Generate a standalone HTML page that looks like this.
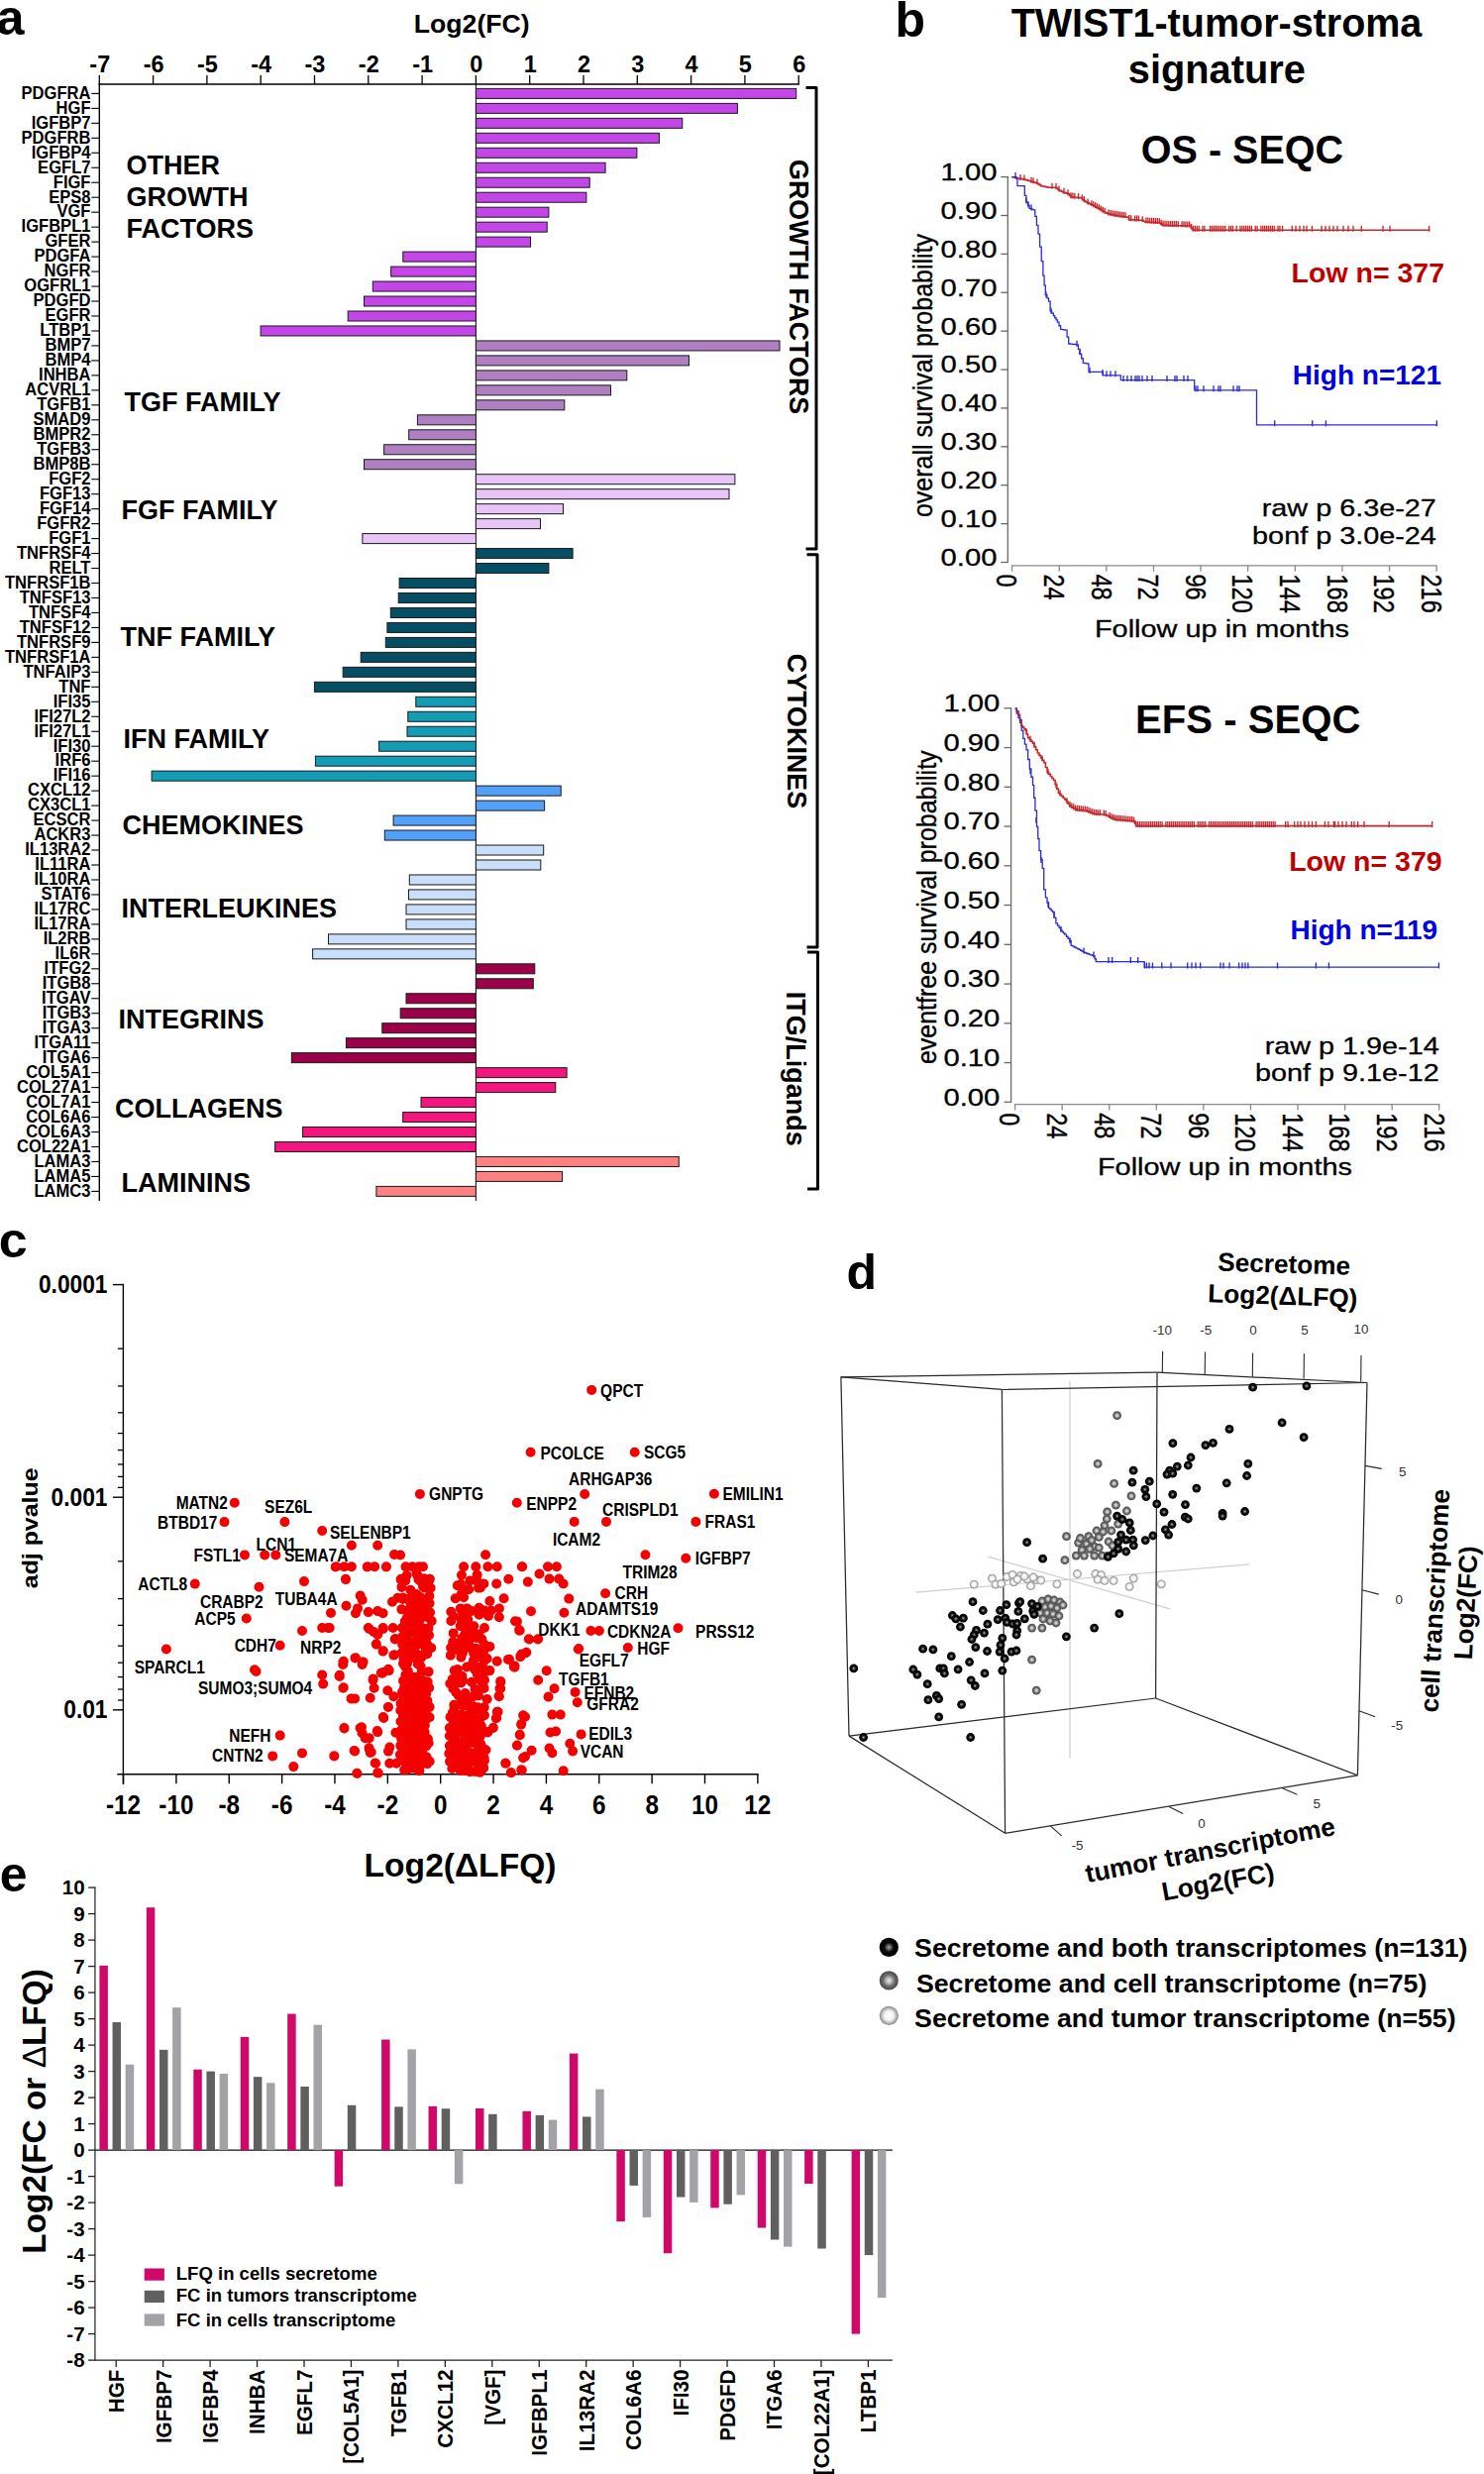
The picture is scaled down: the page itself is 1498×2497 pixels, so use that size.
<!DOCTYPE html>
<html><head><meta charset="utf-8"><style>
html,body{margin:0;padding:0;background:#fff;overflow:hidden;}
svg{display:block;font-family:"Liberation Sans",sans-serif;}
</style></head><body>
<svg width="1498" height="2497" viewBox="0 0 1498 2497">
<rect width="1498" height="2497" fill="#fff"/>
<text transform="translate(-3.4,34.9)" font-size="50.3" font-weight="bold" text-anchor="start" fill="#000">a</text>
<line x1="99.6" y1="85" x2="806.9" y2="85" stroke="#000" stroke-width="1.6"/>
<line x1="100.3" y1="85" x2="100.3" y2="76" stroke="#000" stroke-width="1.3"/>
<text transform="translate(100.8,73)" font-size="23.5" font-weight="bold" text-anchor="middle" fill="#000">-7</text>
<line x1="154.6" y1="85" x2="154.6" y2="76" stroke="#000" stroke-width="1.3"/>
<text transform="translate(155.1,73)" font-size="23.5" font-weight="bold" text-anchor="middle" fill="#000">-6</text>
<line x1="208.9" y1="85" x2="208.9" y2="76" stroke="#000" stroke-width="1.3"/>
<text transform="translate(209.4,73)" font-size="23.5" font-weight="bold" text-anchor="middle" fill="#000">-5</text>
<line x1="263.2" y1="85" x2="263.2" y2="76" stroke="#000" stroke-width="1.3"/>
<text transform="translate(263.7,73)" font-size="23.5" font-weight="bold" text-anchor="middle" fill="#000">-4</text>
<line x1="317.5" y1="85" x2="317.5" y2="76" stroke="#000" stroke-width="1.3"/>
<text transform="translate(318,73)" font-size="23.5" font-weight="bold" text-anchor="middle" fill="#000">-3</text>
<line x1="371.8" y1="85" x2="371.8" y2="76" stroke="#000" stroke-width="1.3"/>
<text transform="translate(372.3,73)" font-size="23.5" font-weight="bold" text-anchor="middle" fill="#000">-2</text>
<line x1="426.1" y1="85" x2="426.1" y2="76" stroke="#000" stroke-width="1.3"/>
<text transform="translate(426.6,73)" font-size="23.5" font-weight="bold" text-anchor="middle" fill="#000">-1</text>
<line x1="480.4" y1="85" x2="480.4" y2="76" stroke="#000" stroke-width="1.3"/>
<text transform="translate(480.9,73)" font-size="23.5" font-weight="bold" text-anchor="middle" fill="#000">0</text>
<line x1="534.7" y1="85" x2="534.7" y2="76" stroke="#000" stroke-width="1.3"/>
<text transform="translate(535.2,73)" font-size="23.5" font-weight="bold" text-anchor="middle" fill="#000">1</text>
<line x1="589" y1="85" x2="589" y2="76" stroke="#000" stroke-width="1.3"/>
<text transform="translate(589.5,73)" font-size="23.5" font-weight="bold" text-anchor="middle" fill="#000">2</text>
<line x1="643.3" y1="85" x2="643.3" y2="76" stroke="#000" stroke-width="1.3"/>
<text transform="translate(643.8,73)" font-size="23.5" font-weight="bold" text-anchor="middle" fill="#000">3</text>
<line x1="697.6" y1="85" x2="697.6" y2="76" stroke="#000" stroke-width="1.3"/>
<text transform="translate(698.1,73)" font-size="23.5" font-weight="bold" text-anchor="middle" fill="#000">4</text>
<line x1="751.9" y1="85" x2="751.9" y2="76" stroke="#000" stroke-width="1.3"/>
<text transform="translate(752.4,73)" font-size="23.5" font-weight="bold" text-anchor="middle" fill="#000">5</text>
<line x1="806.2" y1="85" x2="806.2" y2="76" stroke="#000" stroke-width="1.3"/>
<text transform="translate(806.7,73)" font-size="23.5" font-weight="bold" text-anchor="middle" fill="#000">6</text>
<text transform="translate(476.2,32.5)" font-size="26.6" font-weight="bold" text-anchor="middle" fill="#000">Log2(FC)</text>
<line x1="100.3" y1="84.2" x2="100.3" y2="1212" stroke="#000" stroke-width="1.4"/>
<line x1="480.4" y1="85" x2="480.4" y2="1212" stroke="#000" stroke-width="1"/>
<line x1="92.3" y1="94.4" x2="100.3" y2="94.4" stroke="#000" stroke-width="1.1"/>
<text transform="translate(91.5,99.7) scale(0.931,1)" font-size="17.8" font-weight="bold" text-anchor="end" fill="#000">PDGFRA</text>
<rect x="480.4" y="89.4" width="323.3" height="10" fill="#c445e8" stroke="#1a1a1a" stroke-width="1"/>
<line x1="92.3" y1="109.37" x2="100.3" y2="109.37" stroke="#000" stroke-width="1.1"/>
<text transform="translate(91.5,114.67) scale(0.931,1)" font-size="17.8" font-weight="bold" text-anchor="end" fill="#000">HGF</text>
<rect x="480.4" y="104.37" width="264" height="10" fill="#c445e8" stroke="#1a1a1a" stroke-width="1"/>
<line x1="92.3" y1="124.35" x2="100.3" y2="124.35" stroke="#000" stroke-width="1.1"/>
<text transform="translate(91.5,129.65) scale(0.931,1)" font-size="17.8" font-weight="bold" text-anchor="end" fill="#000">IGFBP7</text>
<rect x="480.4" y="119.35" width="208.4" height="10" fill="#c445e8" stroke="#1a1a1a" stroke-width="1"/>
<line x1="92.3" y1="139.32" x2="100.3" y2="139.32" stroke="#000" stroke-width="1.1"/>
<text transform="translate(91.5,144.62) scale(0.931,1)" font-size="17.8" font-weight="bold" text-anchor="end" fill="#000">PDGFRB</text>
<rect x="480.4" y="134.32" width="185" height="10" fill="#c445e8" stroke="#1a1a1a" stroke-width="1"/>
<line x1="92.3" y1="154.29" x2="100.3" y2="154.29" stroke="#000" stroke-width="1.1"/>
<text transform="translate(91.5,159.59) scale(0.931,1)" font-size="17.8" font-weight="bold" text-anchor="end" fill="#000">IGFBP4</text>
<rect x="480.4" y="149.29" width="162.5" height="10" fill="#c445e8" stroke="#1a1a1a" stroke-width="1"/>
<line x1="92.3" y1="169.27" x2="100.3" y2="169.27" stroke="#000" stroke-width="1.1"/>
<text transform="translate(91.5,174.57) scale(0.931,1)" font-size="17.8" font-weight="bold" text-anchor="end" fill="#000">EGFL7</text>
<rect x="480.4" y="164.27" width="130.7" height="10" fill="#c445e8" stroke="#1a1a1a" stroke-width="1"/>
<line x1="92.3" y1="184.24" x2="100.3" y2="184.24" stroke="#000" stroke-width="1.1"/>
<text transform="translate(91.5,189.54) scale(0.931,1)" font-size="17.8" font-weight="bold" text-anchor="end" fill="#000">FIGF</text>
<rect x="480.4" y="179.24" width="114.8" height="10" fill="#c445e8" stroke="#1a1a1a" stroke-width="1"/>
<line x1="92.3" y1="199.21" x2="100.3" y2="199.21" stroke="#000" stroke-width="1.1"/>
<text transform="translate(91.5,204.51) scale(0.931,1)" font-size="17.8" font-weight="bold" text-anchor="end" fill="#000">EPS8</text>
<rect x="480.4" y="194.21" width="111.5" height="10" fill="#c445e8" stroke="#1a1a1a" stroke-width="1"/>
<line x1="92.3" y1="214.18" x2="100.3" y2="214.18" stroke="#000" stroke-width="1.1"/>
<text transform="translate(91.5,219.48) scale(0.931,1)" font-size="17.8" font-weight="bold" text-anchor="end" fill="#000">VGF</text>
<rect x="480.4" y="209.18" width="73.5" height="10" fill="#c445e8" stroke="#1a1a1a" stroke-width="1"/>
<line x1="92.3" y1="229.16" x2="100.3" y2="229.16" stroke="#000" stroke-width="1.1"/>
<text transform="translate(91.5,234.46) scale(0.931,1)" font-size="17.8" font-weight="bold" text-anchor="end" fill="#000">IGFBPL1</text>
<rect x="480.4" y="224.16" width="71.8" height="10" fill="#c445e8" stroke="#1a1a1a" stroke-width="1"/>
<line x1="92.3" y1="244.13" x2="100.3" y2="244.13" stroke="#000" stroke-width="1.1"/>
<text transform="translate(91.5,249.43) scale(0.931,1)" font-size="17.8" font-weight="bold" text-anchor="end" fill="#000">GFER</text>
<rect x="480.4" y="239.13" width="55.1" height="10" fill="#c445e8" stroke="#1a1a1a" stroke-width="1"/>
<line x1="92.3" y1="259.1" x2="100.3" y2="259.1" stroke="#000" stroke-width="1.1"/>
<text transform="translate(91.5,264.4) scale(0.931,1)" font-size="17.8" font-weight="bold" text-anchor="end" fill="#000">PDGFA</text>
<rect x="406.8" y="254.1" width="73.6" height="10" fill="#c445e8" stroke="#1a1a1a" stroke-width="1"/>
<line x1="92.3" y1="274.08" x2="100.3" y2="274.08" stroke="#000" stroke-width="1.1"/>
<text transform="translate(91.5,279.38) scale(0.931,1)" font-size="17.8" font-weight="bold" text-anchor="end" fill="#000">NGFR</text>
<rect x="394.7" y="269.08" width="85.7" height="10" fill="#c445e8" stroke="#1a1a1a" stroke-width="1"/>
<line x1="92.3" y1="289.05" x2="100.3" y2="289.05" stroke="#000" stroke-width="1.1"/>
<text transform="translate(91.5,294.35) scale(0.931,1)" font-size="17.8" font-weight="bold" text-anchor="end" fill="#000">OGFRL1</text>
<rect x="376.3" y="284.05" width="104.1" height="10" fill="#c445e8" stroke="#1a1a1a" stroke-width="1"/>
<line x1="92.3" y1="304.02" x2="100.3" y2="304.02" stroke="#000" stroke-width="1.1"/>
<text transform="translate(91.5,309.32) scale(0.931,1)" font-size="17.8" font-weight="bold" text-anchor="end" fill="#000">PDGFD</text>
<rect x="367.5" y="299.02" width="112.9" height="10" fill="#c445e8" stroke="#1a1a1a" stroke-width="1"/>
<line x1="92.3" y1="319" x2="100.3" y2="319" stroke="#000" stroke-width="1.1"/>
<text transform="translate(91.5,324.3) scale(0.931,1)" font-size="17.8" font-weight="bold" text-anchor="end" fill="#000">EGFR</text>
<rect x="351.2" y="314" width="129.2" height="10" fill="#c445e8" stroke="#1a1a1a" stroke-width="1"/>
<line x1="92.3" y1="333.97" x2="100.3" y2="333.97" stroke="#000" stroke-width="1.1"/>
<text transform="translate(91.5,339.27) scale(0.931,1)" font-size="17.8" font-weight="bold" text-anchor="end" fill="#000">LTBP1</text>
<rect x="263.1" y="328.97" width="217.3" height="10" fill="#c445e8" stroke="#1a1a1a" stroke-width="1"/>
<line x1="92.3" y1="348.94" x2="100.3" y2="348.94" stroke="#000" stroke-width="1.1"/>
<text transform="translate(91.5,354.24) scale(0.931,1)" font-size="17.8" font-weight="bold" text-anchor="end" fill="#000">BMP7</text>
<rect x="480.4" y="343.94" width="306.6" height="10" fill="#b07fc2" stroke="#1a1a1a" stroke-width="1"/>
<line x1="92.3" y1="363.91" x2="100.3" y2="363.91" stroke="#000" stroke-width="1.1"/>
<text transform="translate(91.5,369.21) scale(0.931,1)" font-size="17.8" font-weight="bold" text-anchor="end" fill="#000">BMP4</text>
<rect x="480.4" y="358.91" width="215.1" height="10" fill="#b07fc2" stroke="#1a1a1a" stroke-width="1"/>
<line x1="92.3" y1="378.89" x2="100.3" y2="378.89" stroke="#000" stroke-width="1.1"/>
<text transform="translate(91.5,384.19) scale(0.931,1)" font-size="17.8" font-weight="bold" text-anchor="end" fill="#000">INHBA</text>
<rect x="480.4" y="373.89" width="152.4" height="10" fill="#b07fc2" stroke="#1a1a1a" stroke-width="1"/>
<line x1="92.3" y1="393.86" x2="100.3" y2="393.86" stroke="#000" stroke-width="1.1"/>
<text transform="translate(91.5,399.16) scale(0.931,1)" font-size="17.8" font-weight="bold" text-anchor="end" fill="#000">ACVRL1</text>
<rect x="480.4" y="388.86" width="136.1" height="10" fill="#b07fc2" stroke="#1a1a1a" stroke-width="1"/>
<line x1="92.3" y1="408.83" x2="100.3" y2="408.83" stroke="#000" stroke-width="1.1"/>
<text transform="translate(91.5,414.13) scale(0.931,1)" font-size="17.8" font-weight="bold" text-anchor="end" fill="#000">TGFB1</text>
<rect x="480.4" y="403.83" width="89.4" height="10" fill="#b07fc2" stroke="#1a1a1a" stroke-width="1"/>
<line x1="92.3" y1="423.81" x2="100.3" y2="423.81" stroke="#000" stroke-width="1.1"/>
<text transform="translate(91.5,429.11) scale(0.931,1)" font-size="17.8" font-weight="bold" text-anchor="end" fill="#000">SMAD9</text>
<rect x="421.4" y="418.81" width="59" height="10" fill="#b07fc2" stroke="#1a1a1a" stroke-width="1"/>
<line x1="92.3" y1="438.78" x2="100.3" y2="438.78" stroke="#000" stroke-width="1.1"/>
<text transform="translate(91.5,444.08) scale(0.931,1)" font-size="17.8" font-weight="bold" text-anchor="end" fill="#000">BMPR2</text>
<rect x="412.7" y="433.78" width="67.7" height="10" fill="#b07fc2" stroke="#1a1a1a" stroke-width="1"/>
<line x1="92.3" y1="453.75" x2="100.3" y2="453.75" stroke="#000" stroke-width="1.1"/>
<text transform="translate(91.5,459.05) scale(0.931,1)" font-size="17.8" font-weight="bold" text-anchor="end" fill="#000">TGFB3</text>
<rect x="387.6" y="448.75" width="92.8" height="10" fill="#b07fc2" stroke="#1a1a1a" stroke-width="1"/>
<line x1="92.3" y1="468.73" x2="100.3" y2="468.73" stroke="#000" stroke-width="1.1"/>
<text transform="translate(91.5,474.03) scale(0.931,1)" font-size="17.8" font-weight="bold" text-anchor="end" fill="#000">BMP8B</text>
<rect x="367.5" y="463.73" width="112.9" height="10" fill="#b07fc2" stroke="#1a1a1a" stroke-width="1"/>
<line x1="92.3" y1="483.7" x2="100.3" y2="483.7" stroke="#000" stroke-width="1.1"/>
<text transform="translate(91.5,489) scale(0.931,1)" font-size="17.8" font-weight="bold" text-anchor="end" fill="#000">FGF2</text>
<rect x="480.4" y="478.7" width="261.5" height="10" fill="#e9c5f7" stroke="#1a1a1a" stroke-width="1"/>
<line x1="92.3" y1="498.67" x2="100.3" y2="498.67" stroke="#000" stroke-width="1.1"/>
<text transform="translate(91.5,503.97) scale(0.931,1)" font-size="17.8" font-weight="bold" text-anchor="end" fill="#000">FGF13</text>
<rect x="480.4" y="493.67" width="255.6" height="10" fill="#e9c5f7" stroke="#1a1a1a" stroke-width="1"/>
<line x1="92.3" y1="513.64" x2="100.3" y2="513.64" stroke="#000" stroke-width="1.1"/>
<text transform="translate(91.5,518.94) scale(0.931,1)" font-size="17.8" font-weight="bold" text-anchor="end" fill="#000">FGF14</text>
<rect x="480.4" y="508.64" width="88.1" height="10" fill="#e9c5f7" stroke="#1a1a1a" stroke-width="1"/>
<line x1="92.3" y1="528.62" x2="100.3" y2="528.62" stroke="#000" stroke-width="1.1"/>
<text transform="translate(91.5,533.92) scale(0.931,1)" font-size="17.8" font-weight="bold" text-anchor="end" fill="#000">FGFR2</text>
<rect x="480.4" y="523.62" width="65.1" height="10" fill="#e9c5f7" stroke="#1a1a1a" stroke-width="1"/>
<line x1="92.3" y1="543.59" x2="100.3" y2="543.59" stroke="#000" stroke-width="1.1"/>
<text transform="translate(91.5,548.89) scale(0.931,1)" font-size="17.8" font-weight="bold" text-anchor="end" fill="#000">FGF1</text>
<rect x="365.9" y="538.59" width="114.5" height="10" fill="#e9c5f7" stroke="#1a1a1a" stroke-width="1"/>
<line x1="92.3" y1="558.56" x2="100.3" y2="558.56" stroke="#000" stroke-width="1.1"/>
<text transform="translate(91.5,563.86) scale(0.931,1)" font-size="17.8" font-weight="bold" text-anchor="end" fill="#000">TNFRSF4</text>
<rect x="480.4" y="553.56" width="97.7" height="10" fill="#054e63" stroke="#1a1a1a" stroke-width="1"/>
<line x1="92.3" y1="573.54" x2="100.3" y2="573.54" stroke="#000" stroke-width="1.1"/>
<text transform="translate(91.5,578.84) scale(0.931,1)" font-size="17.8" font-weight="bold" text-anchor="end" fill="#000">RELT</text>
<rect x="480.4" y="568.54" width="73.5" height="10" fill="#054e63" stroke="#1a1a1a" stroke-width="1"/>
<line x1="92.3" y1="588.51" x2="100.3" y2="588.51" stroke="#000" stroke-width="1.1"/>
<text transform="translate(91.5,593.81) scale(0.931,1)" font-size="17.8" font-weight="bold" text-anchor="end" fill="#000">TNFRSF1B</text>
<rect x="403.1" y="583.51" width="77.3" height="10" fill="#054e63" stroke="#1a1a1a" stroke-width="1"/>
<line x1="92.3" y1="603.48" x2="100.3" y2="603.48" stroke="#000" stroke-width="1.1"/>
<text transform="translate(91.5,608.78) scale(0.931,1)" font-size="17.8" font-weight="bold" text-anchor="end" fill="#000">TNFSF13</text>
<rect x="402.2" y="598.48" width="78.2" height="10" fill="#054e63" stroke="#1a1a1a" stroke-width="1"/>
<line x1="92.3" y1="618.46" x2="100.3" y2="618.46" stroke="#000" stroke-width="1.1"/>
<text transform="translate(91.5,623.75) scale(0.931,1)" font-size="17.8" font-weight="bold" text-anchor="end" fill="#000">TNFSF4</text>
<rect x="394.3" y="613.46" width="86.1" height="10" fill="#054e63" stroke="#1a1a1a" stroke-width="1"/>
<line x1="92.3" y1="633.43" x2="100.3" y2="633.43" stroke="#000" stroke-width="1.1"/>
<text transform="translate(91.5,638.73) scale(0.931,1)" font-size="17.8" font-weight="bold" text-anchor="end" fill="#000">TNFSF12</text>
<rect x="390.9" y="628.43" width="89.5" height="10" fill="#054e63" stroke="#1a1a1a" stroke-width="1"/>
<line x1="92.3" y1="648.4" x2="100.3" y2="648.4" stroke="#000" stroke-width="1.1"/>
<text transform="translate(91.5,653.7) scale(0.931,1)" font-size="17.8" font-weight="bold" text-anchor="end" fill="#000">TNFRSF9</text>
<rect x="389.3" y="643.4" width="91.1" height="10" fill="#054e63" stroke="#1a1a1a" stroke-width="1"/>
<line x1="92.3" y1="663.37" x2="100.3" y2="663.37" stroke="#000" stroke-width="1.1"/>
<text transform="translate(91.5,668.67) scale(0.931,1)" font-size="17.8" font-weight="bold" text-anchor="end" fill="#000">TNFRSF1A</text>
<rect x="364.2" y="658.37" width="116.2" height="10" fill="#054e63" stroke="#1a1a1a" stroke-width="1"/>
<line x1="92.3" y1="678.35" x2="100.3" y2="678.35" stroke="#000" stroke-width="1.1"/>
<text transform="translate(91.5,683.65) scale(0.931,1)" font-size="17.8" font-weight="bold" text-anchor="end" fill="#000">TNFAIP3</text>
<rect x="346.2" y="673.35" width="134.2" height="10" fill="#054e63" stroke="#1a1a1a" stroke-width="1"/>
<line x1="92.3" y1="693.32" x2="100.3" y2="693.32" stroke="#000" stroke-width="1.1"/>
<text transform="translate(91.5,698.62) scale(0.931,1)" font-size="17.8" font-weight="bold" text-anchor="end" fill="#000">TNF</text>
<rect x="317.4" y="688.32" width="163" height="10" fill="#054e63" stroke="#1a1a1a" stroke-width="1"/>
<line x1="92.3" y1="708.29" x2="100.3" y2="708.29" stroke="#000" stroke-width="1.1"/>
<text transform="translate(91.5,713.59) scale(0.931,1)" font-size="17.8" font-weight="bold" text-anchor="end" fill="#000">IFI35</text>
<rect x="419.8" y="703.29" width="60.6" height="10" fill="#139cb5" stroke="#1a1a1a" stroke-width="1"/>
<line x1="92.3" y1="723.27" x2="100.3" y2="723.27" stroke="#000" stroke-width="1.1"/>
<text transform="translate(91.5,728.57) scale(0.931,1)" font-size="17.8" font-weight="bold" text-anchor="end" fill="#000">IFI27L2</text>
<rect x="411.8" y="718.27" width="68.6" height="10" fill="#139cb5" stroke="#1a1a1a" stroke-width="1"/>
<line x1="92.3" y1="738.24" x2="100.3" y2="738.24" stroke="#000" stroke-width="1.1"/>
<text transform="translate(91.5,743.54) scale(0.931,1)" font-size="17.8" font-weight="bold" text-anchor="end" fill="#000">IFI27L1</text>
<rect x="411" y="733.24" width="69.4" height="10" fill="#139cb5" stroke="#1a1a1a" stroke-width="1"/>
<line x1="92.3" y1="753.21" x2="100.3" y2="753.21" stroke="#000" stroke-width="1.1"/>
<text transform="translate(91.5,758.51) scale(0.931,1)" font-size="17.8" font-weight="bold" text-anchor="end" fill="#000">IFI30</text>
<rect x="382.6" y="748.21" width="97.8" height="10" fill="#139cb5" stroke="#1a1a1a" stroke-width="1"/>
<line x1="92.3" y1="768.19" x2="100.3" y2="768.19" stroke="#000" stroke-width="1.1"/>
<text transform="translate(91.5,773.49) scale(0.931,1)" font-size="17.8" font-weight="bold" text-anchor="end" fill="#000">IRF6</text>
<rect x="318.4" y="763.19" width="162" height="10" fill="#139cb5" stroke="#1a1a1a" stroke-width="1"/>
<line x1="92.3" y1="783.16" x2="100.3" y2="783.16" stroke="#000" stroke-width="1.1"/>
<text transform="translate(91.5,788.46) scale(0.931,1)" font-size="17.8" font-weight="bold" text-anchor="end" fill="#000">IFI16</text>
<rect x="153.1" y="778.16" width="327.3" height="10" fill="#139cb5" stroke="#1a1a1a" stroke-width="1"/>
<line x1="92.3" y1="798.13" x2="100.3" y2="798.13" stroke="#000" stroke-width="1.1"/>
<text transform="translate(91.5,803.43) scale(0.931,1)" font-size="17.8" font-weight="bold" text-anchor="end" fill="#000">CXCL12</text>
<rect x="480.4" y="793.13" width="85.8" height="10" fill="#52a0fa" stroke="#1a1a1a" stroke-width="1"/>
<line x1="92.3" y1="813.1" x2="100.3" y2="813.1" stroke="#000" stroke-width="1.1"/>
<text transform="translate(91.5,818.4) scale(0.931,1)" font-size="17.8" font-weight="bold" text-anchor="end" fill="#000">CX3CL1</text>
<rect x="480.4" y="808.1" width="69.2" height="10" fill="#52a0fa" stroke="#1a1a1a" stroke-width="1"/>
<line x1="92.3" y1="828.08" x2="100.3" y2="828.08" stroke="#000" stroke-width="1.1"/>
<text transform="translate(91.5,833.38) scale(0.931,1)" font-size="17.8" font-weight="bold" text-anchor="end" fill="#000">ECSCR</text>
<rect x="397.1" y="823.08" width="83.3" height="10" fill="#52a0fa" stroke="#1a1a1a" stroke-width="1"/>
<line x1="92.3" y1="843.05" x2="100.3" y2="843.05" stroke="#000" stroke-width="1.1"/>
<text transform="translate(91.5,848.35) scale(0.931,1)" font-size="17.8" font-weight="bold" text-anchor="end" fill="#000">ACKR3</text>
<rect x="388.3" y="838.05" width="92.1" height="10" fill="#52a0fa" stroke="#1a1a1a" stroke-width="1"/>
<line x1="92.3" y1="858.02" x2="100.3" y2="858.02" stroke="#000" stroke-width="1.1"/>
<text transform="translate(91.5,863.32) scale(0.931,1)" font-size="17.8" font-weight="bold" text-anchor="end" fill="#000">IL13RA2</text>
<rect x="480.4" y="853.02" width="68.3" height="10" fill="#c9def8" stroke="#1a1a1a" stroke-width="1"/>
<line x1="92.3" y1="873" x2="100.3" y2="873" stroke="#000" stroke-width="1.1"/>
<text transform="translate(91.5,878.3) scale(0.931,1)" font-size="17.8" font-weight="bold" text-anchor="end" fill="#000">IL11RA</text>
<rect x="480.4" y="868" width="65.4" height="10" fill="#c9def8" stroke="#1a1a1a" stroke-width="1"/>
<line x1="92.3" y1="887.97" x2="100.3" y2="887.97" stroke="#000" stroke-width="1.1"/>
<text transform="translate(91.5,893.27) scale(0.931,1)" font-size="17.8" font-weight="bold" text-anchor="end" fill="#000">IL10RA</text>
<rect x="413.3" y="882.97" width="67.1" height="10" fill="#c9def8" stroke="#1a1a1a" stroke-width="1"/>
<line x1="92.3" y1="902.94" x2="100.3" y2="902.94" stroke="#000" stroke-width="1.1"/>
<text transform="translate(91.5,908.24) scale(0.931,1)" font-size="17.8" font-weight="bold" text-anchor="end" fill="#000">STAT6</text>
<rect x="412.5" y="897.94" width="67.9" height="10" fill="#c9def8" stroke="#1a1a1a" stroke-width="1"/>
<line x1="92.3" y1="917.91" x2="100.3" y2="917.91" stroke="#000" stroke-width="1.1"/>
<text transform="translate(91.5,923.21) scale(0.931,1)" font-size="17.8" font-weight="bold" text-anchor="end" fill="#000">IL17RC</text>
<rect x="410" y="912.91" width="70.4" height="10" fill="#c9def8" stroke="#1a1a1a" stroke-width="1"/>
<line x1="92.3" y1="932.89" x2="100.3" y2="932.89" stroke="#000" stroke-width="1.1"/>
<text transform="translate(91.5,938.19) scale(0.931,1)" font-size="17.8" font-weight="bold" text-anchor="end" fill="#000">IL17RA</text>
<rect x="410" y="927.89" width="70.4" height="10" fill="#c9def8" stroke="#1a1a1a" stroke-width="1"/>
<line x1="92.3" y1="947.86" x2="100.3" y2="947.86" stroke="#000" stroke-width="1.1"/>
<text transform="translate(91.5,953.16) scale(0.931,1)" font-size="17.8" font-weight="bold" text-anchor="end" fill="#000">IL2RB</text>
<rect x="331.5" y="942.86" width="148.9" height="10" fill="#c9def8" stroke="#1a1a1a" stroke-width="1"/>
<line x1="92.3" y1="962.83" x2="100.3" y2="962.83" stroke="#000" stroke-width="1.1"/>
<text transform="translate(91.5,968.13) scale(0.931,1)" font-size="17.8" font-weight="bold" text-anchor="end" fill="#000">IL6R</text>
<rect x="315.6" y="957.83" width="164.8" height="10" fill="#c9def8" stroke="#1a1a1a" stroke-width="1"/>
<line x1="92.3" y1="977.81" x2="100.3" y2="977.81" stroke="#000" stroke-width="1.1"/>
<text transform="translate(91.5,983.11) scale(0.931,1)" font-size="17.8" font-weight="bold" text-anchor="end" fill="#000">ITFG2</text>
<rect x="480.4" y="972.81" width="59.4" height="10" fill="#9c0048" stroke="#1a1a1a" stroke-width="1"/>
<line x1="92.3" y1="992.78" x2="100.3" y2="992.78" stroke="#000" stroke-width="1.1"/>
<text transform="translate(91.5,998.08) scale(0.931,1)" font-size="17.8" font-weight="bold" text-anchor="end" fill="#000">ITGB8</text>
<rect x="480.4" y="987.78" width="57.9" height="10" fill="#9c0048" stroke="#1a1a1a" stroke-width="1"/>
<line x1="92.3" y1="1007.75" x2="100.3" y2="1007.75" stroke="#000" stroke-width="1.1"/>
<text transform="translate(91.5,1013.05) scale(0.931,1)" font-size="17.8" font-weight="bold" text-anchor="end" fill="#000">ITGAV</text>
<rect x="410" y="1002.75" width="70.4" height="10" fill="#9c0048" stroke="#1a1a1a" stroke-width="1"/>
<line x1="92.3" y1="1022.73" x2="100.3" y2="1022.73" stroke="#000" stroke-width="1.1"/>
<text transform="translate(91.5,1028.03) scale(0.931,1)" font-size="17.8" font-weight="bold" text-anchor="end" fill="#000">ITGB3</text>
<rect x="404.2" y="1017.73" width="76.2" height="10" fill="#9c0048" stroke="#1a1a1a" stroke-width="1"/>
<line x1="92.3" y1="1037.7" x2="100.3" y2="1037.7" stroke="#000" stroke-width="1.1"/>
<text transform="translate(91.5,1043) scale(0.931,1)" font-size="17.8" font-weight="bold" text-anchor="end" fill="#000">ITGA3</text>
<rect x="385.8" y="1032.7" width="94.6" height="10" fill="#9c0048" stroke="#1a1a1a" stroke-width="1"/>
<line x1="92.3" y1="1052.67" x2="100.3" y2="1052.67" stroke="#000" stroke-width="1.1"/>
<text transform="translate(91.5,1057.97) scale(0.931,1)" font-size="17.8" font-weight="bold" text-anchor="end" fill="#000">ITGA11</text>
<rect x="349.4" y="1047.67" width="131" height="10" fill="#9c0048" stroke="#1a1a1a" stroke-width="1"/>
<line x1="92.3" y1="1067.64" x2="100.3" y2="1067.64" stroke="#000" stroke-width="1.1"/>
<text transform="translate(91.5,1072.94) scale(0.931,1)" font-size="17.8" font-weight="bold" text-anchor="end" fill="#000">ITGA6</text>
<rect x="294.3" y="1062.64" width="186.1" height="10" fill="#9c0048" stroke="#1a1a1a" stroke-width="1"/>
<line x1="92.3" y1="1082.62" x2="100.3" y2="1082.62" stroke="#000" stroke-width="1.1"/>
<text transform="translate(91.5,1087.92) scale(0.931,1)" font-size="17.8" font-weight="bold" text-anchor="end" fill="#000">COL5A1</text>
<rect x="480.4" y="1077.62" width="91.7" height="10" fill="#f4157f" stroke="#1a1a1a" stroke-width="1"/>
<line x1="92.3" y1="1097.59" x2="100.3" y2="1097.59" stroke="#000" stroke-width="1.1"/>
<text transform="translate(91.5,1102.89) scale(0.931,1)" font-size="17.8" font-weight="bold" text-anchor="end" fill="#000">COL27A1</text>
<rect x="480.4" y="1092.59" width="80.4" height="10" fill="#f4157f" stroke="#1a1a1a" stroke-width="1"/>
<line x1="92.3" y1="1112.56" x2="100.3" y2="1112.56" stroke="#000" stroke-width="1.1"/>
<text transform="translate(91.5,1117.86) scale(0.931,1)" font-size="17.8" font-weight="bold" text-anchor="end" fill="#000">COL7A1</text>
<rect x="425" y="1107.56" width="55.4" height="10" fill="#f4157f" stroke="#1a1a1a" stroke-width="1"/>
<line x1="92.3" y1="1127.54" x2="100.3" y2="1127.54" stroke="#000" stroke-width="1.1"/>
<text transform="translate(91.5,1132.84) scale(0.931,1)" font-size="17.8" font-weight="bold" text-anchor="end" fill="#000">COL6A6</text>
<rect x="406.7" y="1122.54" width="73.7" height="10" fill="#f4157f" stroke="#1a1a1a" stroke-width="1"/>
<line x1="92.3" y1="1142.51" x2="100.3" y2="1142.51" stroke="#000" stroke-width="1.1"/>
<text transform="translate(91.5,1147.81) scale(0.931,1)" font-size="17.8" font-weight="bold" text-anchor="end" fill="#000">COL6A3</text>
<rect x="305.6" y="1137.51" width="174.8" height="10" fill="#f4157f" stroke="#1a1a1a" stroke-width="1"/>
<line x1="92.3" y1="1157.48" x2="100.3" y2="1157.48" stroke="#000" stroke-width="1.1"/>
<text transform="translate(91.5,1162.78) scale(0.931,1)" font-size="17.8" font-weight="bold" text-anchor="end" fill="#000">COL22A1</text>
<rect x="277.6" y="1152.48" width="202.8" height="10" fill="#f4157f" stroke="#1a1a1a" stroke-width="1"/>
<line x1="92.3" y1="1172.46" x2="100.3" y2="1172.46" stroke="#000" stroke-width="1.1"/>
<text transform="translate(91.5,1177.76) scale(0.931,1)" font-size="17.8" font-weight="bold" text-anchor="end" fill="#000">LAMA3</text>
<rect x="480.4" y="1167.46" width="204.9" height="10" fill="#fd8180" stroke="#1a1a1a" stroke-width="1"/>
<line x1="92.3" y1="1187.43" x2="100.3" y2="1187.43" stroke="#000" stroke-width="1.1"/>
<text transform="translate(91.5,1192.73) scale(0.931,1)" font-size="17.8" font-weight="bold" text-anchor="end" fill="#000">LAMA5</text>
<rect x="480.4" y="1182.43" width="87.1" height="10" fill="#fd8180" stroke="#1a1a1a" stroke-width="1"/>
<line x1="92.3" y1="1202.4" x2="100.3" y2="1202.4" stroke="#000" stroke-width="1.1"/>
<text transform="translate(91.5,1207.7) scale(0.931,1)" font-size="17.8" font-weight="bold" text-anchor="end" fill="#000">LAMC3</text>
<rect x="379.9" y="1197.4" width="100.5" height="10" fill="#fd8180" stroke="#1a1a1a" stroke-width="1"/>
<text transform="translate(127.6,176)" font-size="27" font-weight="bold" text-anchor="start" fill="#000">OTHER</text>
<text transform="translate(127.6,207.8)" font-size="27" font-weight="bold" text-anchor="start" fill="#000">GROWTH</text>
<text transform="translate(127.6,239.7)" font-size="27" font-weight="bold" text-anchor="start" fill="#000">FACTORS</text>
<text transform="translate(125.6,414.5)" font-size="27" font-weight="bold" text-anchor="start" fill="#000">TGF FAMILY</text>
<text transform="translate(122.4,523.7)" font-size="27" font-weight="bold" text-anchor="start" fill="#000">FGF FAMILY</text>
<text transform="translate(121.4,652.2)" font-size="27" font-weight="bold" text-anchor="start" fill="#000">TNF FAMILY</text>
<text transform="translate(124.6,755.2)" font-size="27" font-weight="bold" text-anchor="start" fill="#000">IFN FAMILY</text>
<text transform="translate(123.6,842.2)" font-size="27" font-weight="bold" text-anchor="start" fill="#000">CHEMOKINES</text>
<text transform="translate(122.6,926.1)" font-size="27" font-weight="bold" text-anchor="start" fill="#000">INTERLEUKINES</text>
<text transform="translate(119.4,1037.7)" font-size="27" font-weight="bold" text-anchor="start" fill="#000">INTEGRINS</text>
<text transform="translate(116,1128)" font-size="27" font-weight="bold" text-anchor="start" fill="#000">COLLAGENS</text>
<text transform="translate(122.4,1203.2)" font-size="27" font-weight="bold" text-anchor="start" fill="#000">LAMININS</text>
<path d="M813.5,88.4 H824 V554 H813.5" stroke="#000" stroke-width="3" fill="none" stroke-linejoin="round"/>
<path d="M814.5,559.8 H825 V955.9 H814.5" stroke="#000" stroke-width="3" fill="none" stroke-linejoin="round"/>
<path d="M815,961 H825.5 V1199.9 H815" stroke="#000" stroke-width="3" fill="none" stroke-linejoin="round"/>
<text transform="translate(797,161.1) rotate(90)" font-size="26.8" font-weight="bold" text-anchor="start" fill="#000">GROWTH FACTORS</text>
<text transform="translate(794.6,659.8) rotate(90)" font-size="26.9" font-weight="bold" text-anchor="start" fill="#000">CYTOKINES</text>
<text transform="translate(793.6,1000.8) rotate(90)" font-size="27" font-weight="bold" text-anchor="start" fill="#000">ITG/Ligands</text>
<text transform="translate(903.5,36.5)" font-size="50" font-weight="bold" text-anchor="start" fill="#000">b</text>
<text transform="translate(1228,36.6) scale(0.952,1)" font-size="41.5" font-weight="bold" text-anchor="middle" fill="#000">TWIST1-tumor-stroma</text>
<text transform="translate(1228.3,84.2) scale(0.990,1)" font-size="40.2" font-weight="bold" text-anchor="middle" fill="#000">signature</text>
<text transform="translate(1151.8,165.4) scale(0.960,1)" font-size="41.2" font-weight="bold" text-anchor="start" fill="#000">OS - SEQC</text>
<line x1="1017.3" y1="178.1" x2="1017.3" y2="568" stroke="#6a6a6a" stroke-width="1.3"/>
<line x1="1010.3" y1="178.6" x2="1017.3" y2="178.6" stroke="#6a6a6a" stroke-width="1.3"/>
<text transform="translate(1006.4,182) scale(1.208,1)" font-size="24.2" text-anchor="end" fill="#000" stroke="#000" stroke-width="0.3">1.00</text>
<line x1="1010.3" y1="217.49" x2="1017.3" y2="217.49" stroke="#6a6a6a" stroke-width="1.3"/>
<text transform="translate(1006.4,220.89) scale(1.208,1)" font-size="24.2" text-anchor="end" fill="#000" stroke="#000" stroke-width="0.3">0.90</text>
<line x1="1010.3" y1="256.38" x2="1017.3" y2="256.38" stroke="#6a6a6a" stroke-width="1.3"/>
<text transform="translate(1006.4,259.78) scale(1.208,1)" font-size="24.2" text-anchor="end" fill="#000" stroke="#000" stroke-width="0.3">0.80</text>
<line x1="1010.3" y1="295.27" x2="1017.3" y2="295.27" stroke="#6a6a6a" stroke-width="1.3"/>
<text transform="translate(1006.4,298.67) scale(1.208,1)" font-size="24.2" text-anchor="end" fill="#000" stroke="#000" stroke-width="0.3">0.70</text>
<line x1="1010.3" y1="334.16" x2="1017.3" y2="334.16" stroke="#6a6a6a" stroke-width="1.3"/>
<text transform="translate(1006.4,337.56) scale(1.208,1)" font-size="24.2" text-anchor="end" fill="#000" stroke="#000" stroke-width="0.3">0.60</text>
<line x1="1010.3" y1="373.05" x2="1017.3" y2="373.05" stroke="#6a6a6a" stroke-width="1.3"/>
<text transform="translate(1006.4,376.45) scale(1.208,1)" font-size="24.2" text-anchor="end" fill="#000" stroke="#000" stroke-width="0.3">0.50</text>
<line x1="1010.3" y1="411.94" x2="1017.3" y2="411.94" stroke="#6a6a6a" stroke-width="1.3"/>
<text transform="translate(1006.4,415.34) scale(1.208,1)" font-size="24.2" text-anchor="end" fill="#000" stroke="#000" stroke-width="0.3">0.40</text>
<line x1="1010.3" y1="450.83" x2="1017.3" y2="450.83" stroke="#6a6a6a" stroke-width="1.3"/>
<text transform="translate(1006.4,454.23) scale(1.208,1)" font-size="24.2" text-anchor="end" fill="#000" stroke="#000" stroke-width="0.3">0.30</text>
<line x1="1010.3" y1="489.72" x2="1017.3" y2="489.72" stroke="#6a6a6a" stroke-width="1.3"/>
<text transform="translate(1006.4,493.12) scale(1.208,1)" font-size="24.2" text-anchor="end" fill="#000" stroke="#000" stroke-width="0.3">0.20</text>
<line x1="1010.3" y1="528.61" x2="1017.3" y2="528.61" stroke="#6a6a6a" stroke-width="1.3"/>
<text transform="translate(1006.4,532.01) scale(1.208,1)" font-size="24.2" text-anchor="end" fill="#000" stroke="#000" stroke-width="0.3">0.10</text>
<line x1="1010.3" y1="567.5" x2="1017.3" y2="567.5" stroke="#6a6a6a" stroke-width="1.3"/>
<text transform="translate(1006.4,570.9) scale(1.208,1)" font-size="24.2" text-anchor="end" fill="#000" stroke="#000" stroke-width="0.3">0.00</text>
<line x1="1021.1" y1="570.8" x2="1450.64" y2="570.8" stroke="#8a8a8a" stroke-width="1.3"/>
<line x1="1021.6" y1="570.8" x2="1021.6" y2="576.8" stroke="#8a8a8a" stroke-width="1.3"/>
<text transform="translate(1006.4,579.5) scale(1.260,1) rotate(90)" font-size="23.6" text-anchor="start" fill="#000" stroke="#000" stroke-width="0.3">0</text>
<line x1="1069.22" y1="570.8" x2="1069.22" y2="576.8" stroke="#8a8a8a" stroke-width="1.3"/>
<text transform="translate(1054.02,579.5) scale(1.260,1) rotate(90)" font-size="23.6" text-anchor="start" fill="#000" stroke="#000" stroke-width="0.3">24</text>
<line x1="1116.83" y1="570.8" x2="1116.83" y2="576.8" stroke="#8a8a8a" stroke-width="1.3"/>
<text transform="translate(1101.63,579.5) scale(1.260,1) rotate(90)" font-size="23.6" text-anchor="start" fill="#000" stroke="#000" stroke-width="0.3">48</text>
<line x1="1164.45" y1="570.8" x2="1164.45" y2="576.8" stroke="#8a8a8a" stroke-width="1.3"/>
<text transform="translate(1149.25,579.5) scale(1.260,1) rotate(90)" font-size="23.6" text-anchor="start" fill="#000" stroke="#000" stroke-width="0.3">72</text>
<line x1="1212.06" y1="570.8" x2="1212.06" y2="576.8" stroke="#8a8a8a" stroke-width="1.3"/>
<text transform="translate(1196.86,579.5) scale(1.260,1) rotate(90)" font-size="23.6" text-anchor="start" fill="#000" stroke="#000" stroke-width="0.3">96</text>
<line x1="1259.68" y1="570.8" x2="1259.68" y2="576.8" stroke="#8a8a8a" stroke-width="1.3"/>
<text transform="translate(1244.48,579.5) scale(1.260,1) rotate(90)" font-size="23.6" text-anchor="start" fill="#000" stroke="#000" stroke-width="0.3">120</text>
<line x1="1307.3" y1="570.8" x2="1307.3" y2="576.8" stroke="#8a8a8a" stroke-width="1.3"/>
<text transform="translate(1292.1,579.5) scale(1.260,1) rotate(90)" font-size="23.6" text-anchor="start" fill="#000" stroke="#000" stroke-width="0.3">144</text>
<line x1="1354.91" y1="570.8" x2="1354.91" y2="576.8" stroke="#8a8a8a" stroke-width="1.3"/>
<text transform="translate(1339.71,579.5) scale(1.260,1) rotate(90)" font-size="23.6" text-anchor="start" fill="#000" stroke="#000" stroke-width="0.3">168</text>
<line x1="1402.53" y1="570.8" x2="1402.53" y2="576.8" stroke="#8a8a8a" stroke-width="1.3"/>
<text transform="translate(1387.33,579.5) scale(1.260,1) rotate(90)" font-size="23.6" text-anchor="start" fill="#000" stroke="#000" stroke-width="0.3">192</text>
<line x1="1450.14" y1="570.8" x2="1450.14" y2="576.8" stroke="#8a8a8a" stroke-width="1.3"/>
<text transform="translate(1434.94,579.5) scale(1.260,1) rotate(90)" font-size="23.6" text-anchor="start" fill="#000" stroke="#000" stroke-width="0.3">216</text>
<text transform="translate(1104.9,642.5) scale(1.195,1)" font-size="24.2" text-anchor="start" fill="#000" stroke="#000" stroke-width="0.3">Follow up in months</text>
<text transform="translate(940.7,522.1) scale(1.140,1) rotate(-90)" font-size="25" text-anchor="start" fill="#000" stroke="#000" stroke-width="0.3">overall survival probability</text>
<path d="M1021.3,178.7 H1022.92 V179.04 H1024.54 V179.38 H1026.16 V179.72 H1027.78 V180.06 H1029.4 V180.4 H1031.03 V180.67 H1032.67 V180.93 H1034.3 V181.2 H1035.9 V181.73 H1037.5 V182.27 H1039.1 V182.8 H1040.72 V183.28 H1042.34 V183.76 H1043.96 V184.24 H1045.58 V184.72 H1047.2 V185.2 H1048.8 V186.4 H1050.4 V187.6 H1052.02 V187.94 H1053.64 V188.28 H1055.26 V188.62 H1056.88 V188.96 H1058.5 V189.3 H1065.8 H1067 V190.5 H1068.2 V191.7 H1069.83 V192.5 H1071.47 V193.3 H1073.1 V194.1 H1074.7 V194.63 H1076.3 V195.17 H1077.9 V195.7 H1079.55 V197.35 H1081.2 V199 H1082.82 V199.13 H1084.43 V199.27 H1086.05 V199.4 H1087.67 V199.53 H1089.28 V199.67 H1090.9 V199.8 H1092.5 V201.13 H1094.1 V202.47 H1095.7 V203.8 H1097.33 V204.6 H1098.95 V205.4 H1100.58 V206.2 H1102.2 V207 H1103.83 V207.82 H1105.45 V208.65 H1107.08 V209.48 H1108.7 V210.3 H1110.3 V211.37 H1111.9 V212.43 H1113.5 V213.5 H1115.13 V214.3 H1116.77 V215.1 H1118.4 V215.9 H1120 V216.24 H1121.6 V216.58 H1123.2 V216.92 H1124.8 V217.26 H1126.4 V217.6 H1127.83 V217.8 H1129.25 V218 H1130.67 V218.2 H1132.1 V218.4 H1133.53 V218.6 H1134.95 V218.8 H1136.38 V219 H1137.8 V219.2 H1139.4 V221.6 H1140.83 V221.69 H1142.27 V221.78 H1143.7 V221.87 H1145.13 V221.96 H1146.57 V222.04 H1148 V222.13 H1149.43 V222.22 H1150.87 V222.31 H1152.3 V222.4 H1153.95 V223.2 H1155.6 V224 H1157.05 V224.08 H1158.5 V224.16 H1159.95 V224.24 H1161.4 V224.32 H1162.85 V224.4 H1164.3 V224.48 H1165.75 V224.56 H1167.2 V224.64 H1168.65 V224.72 H1170.1 V224.8 H1171.75 V226.05 H1173.4 V227.3 H1174.92 V227.34 H1176.44 V227.39 H1177.97 V227.43 H1179.49 V227.48 H1181.01 V227.52 H1182.53 V227.57 H1184.06 V227.61 H1185.58 V227.66 H1187.1 V227.7 H1188.62 V227.74 H1190.14 V227.79 H1191.67 V227.83 H1193.19 V227.88 H1194.71 V227.92 H1196.23 V227.97 H1197.76 V228.01 H1199.28 V228.06 H1200.8 V228.1 H1202.45 V230.2 H1204.1 V232.3 H1443.2" stroke="#c8282d" stroke-width="1.6" fill="none"/>
<path d="M1021.3,178.7 H1026 V180.5 H1027 V187.6 H1033.5 H1034.3 V197.3 H1035.9 V203.8 H1037.5 V207.05 H1039.1 V210.3 H1040.47 V210.83 H1041.83 V211.37 H1043.2 V211.9 H1044.8 V218.4 H1046.4 V227.3 H1048 V236.2 H1049.6 V249.1 H1051.25 V263.65 H1052.9 V278.2 H1054.1 V287.9 H1055.3 V297.6 H1056.9 V300.85 H1058.5 V304.1 H1060.1 V313.8 H1061.75 V316.2 H1063.4 V318.6 H1064.73 V320.77 H1066.07 V322.93 H1067.4 V325.1 H1069 V328.75 H1070.6 V332.4 H1072.23 V332.67 H1073.87 V332.93 H1075.5 V333.2 H1077.1 V340.1 H1078.7 V347 H1080.32 V347.16 H1081.94 V347.32 H1083.56 V347.48 H1085.18 V347.64 H1086.8 V347.8 H1088.42 V352.45 H1090.05 V357.1 H1091.67 V361.75 H1093.3 V366.4 H1094.9 V366.67 H1096.5 V366.93 H1098.1 V367.2 H1099 V375.3 H1111.9 H1113.5 V378.8 H1130.5 H1131.3 V383.7 H1204.9 H1205.7 V393.9 H1268.5 V428.9 H1450.5" stroke="#2b2bd6" stroke-width="1.3" fill="none"/>
<path d="M1030,175.9V181.9 M1034,176.55V182.55 M1041,178.76V184.76 M1043,179.36V185.36 M1047,180.54V186.54 M1062,184.7V190.7 M1066,184.9V190.9 M1069,187.49V193.49 M1074,189.8V195.8 M1078,191.2V197.2 M1081,194.2V200.2 M1082.9,194.54V200.54 M1084.8,194.7V200.7 M1088.6,195.01V201.01 M1092.4,196.45V202.45 M1094.3,198.03V204.03 M1098.1,200.38V206.38 M1101.9,202.25V208.25 M1103.8,203.21V209.21 M1105.7,204.18V210.18 M1107.6,205.14V211.14 M1109.5,206.23V212.23 M1111.4,207.5V213.5 M1113.3,208.77V214.77 M1115.2,209.73V215.73 M1119,211.43V217.43 M1120.9,211.83V217.83 M1122.8,212.23V218.23 M1124.7,212.64V218.64 M1126.6,213.03V219.03 M1128.5,213.29V219.29 M1130.4,213.56V219.56 M1132.3,213.83V219.83 M1134.2,214.09V220.09 M1136.1,214.36V220.36 M1139.9,217.03V223.03 M1141.8,217.15V223.15 M1145.6,217.38V223.38 M1147.5,217.5V223.5 M1149.4,217.62V223.62 M1153.2,218.24V224.24 M1157,219.48V225.48 M1158.9,219.58V225.58 M1160.8,219.69V225.69 M1162.7,219.79V225.79 M1164.6,219.9V225.9 M1166.5,220V226 M1168.4,220.11V226.11 M1170.3,220.35V226.35 M1172.2,221.79V227.79 M1174.1,222.72V228.72 M1176,222.78V228.78 M1177.9,222.83V228.83 M1179.8,222.89V228.89 M1181.7,222.94V228.94 M1183.6,223V229 M1185.5,223.05V229.05 M1187.4,223.11V229.11 M1189.3,223.16V229.16 M1193.1,223.28V229.28 M1195,223.33V229.33 M1196.9,223.39V229.39 M1198.8,223.44V229.44 M1200.7,223.5V229.5 M1202.6,225.79V231.79 M1204.5,227.7V233.7 M1206.4,227.7V233.7 M1208.3,227.7V233.7 M1210.2,227.7V233.7 M1214,227.7V233.7 M1215.9,227.7V233.7 M1221.6,227.7V233.7 M1223.5,227.7V233.7 M1225.4,227.7V233.7 M1227.3,227.7V233.7 M1229.2,227.7V233.7 M1231.1,227.7V233.7 M1233,227.7V233.7 M1234.9,227.7V233.7 M1236.8,227.7V233.7 M1240.6,227.7V233.7 M1242.5,227.7V233.7 M1244.4,227.7V233.7 M1248.2,227.7V233.7 M1252,227.7V233.7 M1253.9,227.7V233.7 M1255.8,227.7V233.7 M1257.7,227.7V233.7 M1259.6,227.7V233.7 M1261.5,227.7V233.7 M1263.4,227.7V233.7 M1267.2,227.7V233.7 M1269.1,227.7V233.7 M1272.9,227.7V233.7 M1274.8,227.7V233.7 M1276.7,227.7V233.7 M1278.6,227.7V233.7 M1280.5,227.7V233.7 M1282.4,227.7V233.7 M1284.3,227.7V233.7 M1286.2,227.7V233.7 M1290,227.7V233.7 M1291.9,227.7V233.7 M1294.6,227.7V233.7 M1304.2,227.7V233.7 M1308,227.7V233.7 M1312,227.7V233.7 M1316,227.7V233.7 M1319,227.7V233.7 M1324.4,227.7V233.7 M1334,227.7V233.7 M1338,227.7V233.7 M1342,227.7V233.7 M1346,227.7V233.7 M1350,227.7V233.7 M1356,227.7V233.7 M1361,227.7V233.7 M1366,227.7V233.7 M1374.3,227.7V233.7 M1396,227.7V233.7 M1403,227.7V233.7 M1442.6,227.7V233.7" stroke="#c8282d" stroke-width="1.35" fill="none"/>
<path d="M1025,174.1V180.1 M1036,199.4V205.4 M1038,203.47V209.47 M1041,206.44V212.44 M1056,294.42V300.42 M1061,310.51V316.51 M1087,343.77V349.77 M1090,352.36V358.36 M1100,370.7V376.7 M1113,373.11V379.11 M1117,374.2V380.2 M1121,374.2V380.2 M1126,374.2V380.2 M1134,379.1V385.1 M1138,379.1V385.1 M1142,379.1V385.1 M1146,379.1V385.1 M1148,379.1V385.1 M1150,379.1V385.1 M1153,379.1V385.1 M1158,379.1V385.1 M1163,379.1V385.1 M1178,379.1V385.1 M1186,379.1V385.1 M1188,379.1V385.1 M1195,379.1V385.1 M1199,379.1V385.1 M1207,389.3V395.3 M1209,389.3V395.3 M1215,389.3V395.3 M1225,389.3V395.3 M1230,389.3V395.3 M1232,389.3V395.3 M1245,389.3V395.3 M1249,389.3V395.3 M1251,389.3V395.3 M1286.7,424.3V430.3 M1324.7,424.3V430.3 M1338.4,424.3V430.3 M1450.3,424.3V430.3" stroke="#2b2bd6" stroke-width="1.35" fill="none"/>
<text transform="translate(1303.6,284.8)" font-size="28.5" font-weight="bold" text-anchor="start" fill="#c00000">Low n= 377</text>
<text transform="translate(1304.8,388.4)" font-size="28" font-weight="bold" text-anchor="start" fill="#0000e6">High n=121</text>
<text transform="translate(1449.8,520.9) scale(1.200,1)" font-size="24" text-anchor="end" fill="#000" stroke="#000" stroke-width="0.3">raw p 6.3e-27</text>
<text transform="translate(1449.8,548.6) scale(1.200,1)" font-size="24" text-anchor="end" fill="#000" stroke="#000" stroke-width="0.3">bonf p 3.0e-24</text>
<text transform="translate(1146,739.5) scale(0.975,1)" font-size="41.2" font-weight="bold" text-anchor="start" fill="#000">EFS - SEQC</text>
<line x1="1020.6" y1="714.3" x2="1020.6" y2="1112.8" stroke="#6a6a6a" stroke-width="1.3"/>
<line x1="1013.6" y1="714.8" x2="1020.6" y2="714.8" stroke="#6a6a6a" stroke-width="1.3"/>
<text transform="translate(1009.3,718.2) scale(1.208,1)" font-size="24.2" text-anchor="end" fill="#000" stroke="#000" stroke-width="0.3">1.00</text>
<line x1="1013.6" y1="754.55" x2="1020.6" y2="754.55" stroke="#6a6a6a" stroke-width="1.3"/>
<text transform="translate(1009.3,757.95) scale(1.208,1)" font-size="24.2" text-anchor="end" fill="#000" stroke="#000" stroke-width="0.3">0.90</text>
<line x1="1013.6" y1="794.3" x2="1020.6" y2="794.3" stroke="#6a6a6a" stroke-width="1.3"/>
<text transform="translate(1009.3,797.7) scale(1.208,1)" font-size="24.2" text-anchor="end" fill="#000" stroke="#000" stroke-width="0.3">0.80</text>
<line x1="1013.6" y1="834.05" x2="1020.6" y2="834.05" stroke="#6a6a6a" stroke-width="1.3"/>
<text transform="translate(1009.3,837.45) scale(1.208,1)" font-size="24.2" text-anchor="end" fill="#000" stroke="#000" stroke-width="0.3">0.70</text>
<line x1="1013.6" y1="873.8" x2="1020.6" y2="873.8" stroke="#6a6a6a" stroke-width="1.3"/>
<text transform="translate(1009.3,877.2) scale(1.208,1)" font-size="24.2" text-anchor="end" fill="#000" stroke="#000" stroke-width="0.3">0.60</text>
<line x1="1013.6" y1="913.55" x2="1020.6" y2="913.55" stroke="#6a6a6a" stroke-width="1.3"/>
<text transform="translate(1009.3,916.95) scale(1.208,1)" font-size="24.2" text-anchor="end" fill="#000" stroke="#000" stroke-width="0.3">0.50</text>
<line x1="1013.6" y1="953.3" x2="1020.6" y2="953.3" stroke="#6a6a6a" stroke-width="1.3"/>
<text transform="translate(1009.3,956.7) scale(1.208,1)" font-size="24.2" text-anchor="end" fill="#000" stroke="#000" stroke-width="0.3">0.40</text>
<line x1="1013.6" y1="993.05" x2="1020.6" y2="993.05" stroke="#6a6a6a" stroke-width="1.3"/>
<text transform="translate(1009.3,996.45) scale(1.208,1)" font-size="24.2" text-anchor="end" fill="#000" stroke="#000" stroke-width="0.3">0.30</text>
<line x1="1013.6" y1="1032.8" x2="1020.6" y2="1032.8" stroke="#6a6a6a" stroke-width="1.3"/>
<text transform="translate(1009.3,1036.2) scale(1.208,1)" font-size="24.2" text-anchor="end" fill="#000" stroke="#000" stroke-width="0.3">0.20</text>
<line x1="1013.6" y1="1072.55" x2="1020.6" y2="1072.55" stroke="#6a6a6a" stroke-width="1.3"/>
<text transform="translate(1009.3,1075.95) scale(1.208,1)" font-size="24.2" text-anchor="end" fill="#000" stroke="#000" stroke-width="0.3">0.10</text>
<line x1="1013.6" y1="1112.3" x2="1020.6" y2="1112.3" stroke="#6a6a6a" stroke-width="1.3"/>
<text transform="translate(1009.3,1115.7) scale(1.208,1)" font-size="24.2" text-anchor="end" fill="#000" stroke="#000" stroke-width="0.3">0.00</text>
<line x1="1024.1" y1="1114.6" x2="1453.21" y2="1114.6" stroke="#8a8a8a" stroke-width="1.3"/>
<line x1="1024.6" y1="1114.6" x2="1024.6" y2="1120.6" stroke="#8a8a8a" stroke-width="1.3"/>
<text transform="translate(1009.4,1123.2) scale(1.260,1) rotate(90)" font-size="23.6" text-anchor="start" fill="#000" stroke="#000" stroke-width="0.3">0</text>
<line x1="1072.17" y1="1114.6" x2="1072.17" y2="1120.6" stroke="#8a8a8a" stroke-width="1.3"/>
<text transform="translate(1056.97,1123.2) scale(1.260,1) rotate(90)" font-size="23.6" text-anchor="start" fill="#000" stroke="#000" stroke-width="0.3">24</text>
<line x1="1119.74" y1="1114.6" x2="1119.74" y2="1120.6" stroke="#8a8a8a" stroke-width="1.3"/>
<text transform="translate(1104.54,1123.2) scale(1.260,1) rotate(90)" font-size="23.6" text-anchor="start" fill="#000" stroke="#000" stroke-width="0.3">48</text>
<line x1="1167.3" y1="1114.6" x2="1167.3" y2="1120.6" stroke="#8a8a8a" stroke-width="1.3"/>
<text transform="translate(1152.1,1123.2) scale(1.260,1) rotate(90)" font-size="23.6" text-anchor="start" fill="#000" stroke="#000" stroke-width="0.3">72</text>
<line x1="1214.87" y1="1114.6" x2="1214.87" y2="1120.6" stroke="#8a8a8a" stroke-width="1.3"/>
<text transform="translate(1199.67,1123.2) scale(1.260,1) rotate(90)" font-size="23.6" text-anchor="start" fill="#000" stroke="#000" stroke-width="0.3">96</text>
<line x1="1262.44" y1="1114.6" x2="1262.44" y2="1120.6" stroke="#8a8a8a" stroke-width="1.3"/>
<text transform="translate(1247.24,1123.2) scale(1.260,1) rotate(90)" font-size="23.6" text-anchor="start" fill="#000" stroke="#000" stroke-width="0.3">120</text>
<line x1="1310.01" y1="1114.6" x2="1310.01" y2="1120.6" stroke="#8a8a8a" stroke-width="1.3"/>
<text transform="translate(1294.81,1123.2) scale(1.260,1) rotate(90)" font-size="23.6" text-anchor="start" fill="#000" stroke="#000" stroke-width="0.3">144</text>
<line x1="1357.58" y1="1114.6" x2="1357.58" y2="1120.6" stroke="#8a8a8a" stroke-width="1.3"/>
<text transform="translate(1342.38,1123.2) scale(1.260,1) rotate(90)" font-size="23.6" text-anchor="start" fill="#000" stroke="#000" stroke-width="0.3">168</text>
<line x1="1405.14" y1="1114.6" x2="1405.14" y2="1120.6" stroke="#8a8a8a" stroke-width="1.3"/>
<text transform="translate(1389.94,1123.2) scale(1.260,1) rotate(90)" font-size="23.6" text-anchor="start" fill="#000" stroke="#000" stroke-width="0.3">192</text>
<line x1="1452.71" y1="1114.6" x2="1452.71" y2="1120.6" stroke="#8a8a8a" stroke-width="1.3"/>
<text transform="translate(1437.51,1123.2) scale(1.260,1) rotate(90)" font-size="23.6" text-anchor="start" fill="#000" stroke="#000" stroke-width="0.3">216</text>
<text transform="translate(1107.9,1185.9) scale(1.195,1)" font-size="24.2" text-anchor="start" fill="#000" stroke="#000" stroke-width="0.3">Follow up in months</text>
<text transform="translate(944.7,1074.1) scale(1.140,1) rotate(-90)" font-size="25" text-anchor="start" fill="#000" stroke="#000" stroke-width="0.3">eventfree survival probability</text>
<path d="M1024.7,715 H1026.3 V718.1 H1027.9 V721.2 H1029.55 V726.85 H1031.2 V732.5 H1032.53 V734.1 H1033.87 V735.7 H1035.2 V737.3 H1036.4 V740.95 H1037.6 V744.6 H1039.23 V746.5 H1040.87 V748.4 H1042.5 V750.3 H1044.1 V753.53 H1045.7 V756.77 H1047.3 V760 H1048.92 V762.42 H1050.55 V764.85 H1052.17 V767.28 H1053.8 V769.7 H1055.45 V774.55 H1057.1 V779.4 H1058.7 V781.42 H1060.3 V783.45 H1061.9 V785.48 H1063.5 V787.5 H1065.13 V791.8 H1066.77 V796.1 H1068.4 V800.4 H1070 V802.02 H1071.6 V803.65 H1073.2 V805.27 H1074.8 V806.9 H1076.43 V809.07 H1078.07 V811.23 H1079.7 V813.4 H1081.33 V814.4 H1082.95 V815.4 H1084.58 V816.4 H1086.2 V817.4 H1087.82 V817.53 H1089.43 V817.67 H1091.05 V817.8 H1092.67 V817.93 H1094.28 V818.07 H1095.9 V818.2 H1097.52 V818.84 H1099.14 V819.48 H1100.76 V820.12 H1102.38 V820.76 H1104 V821.4 H1105.41 V821.51 H1106.83 V821.62 H1108.24 V821.74 H1109.65 V821.85 H1111.06 V821.96 H1112.47 V822.07 H1113.89 V822.19 H1115.3 V822.3 H1116.92 V823.1 H1118.53 V823.9 H1120.15 V824.7 H1121.77 V825.5 H1123.38 V826.3 H1125 V827.1 H1126.49 V827.22 H1127.98 V827.35 H1129.48 V827.47 H1130.97 V827.59 H1132.46 V827.72 H1133.95 V827.84 H1135.45 V827.96 H1136.94 V828.08 H1138.43 V828.21 H1139.92 V828.33 H1141.42 V828.45 H1142.91 V828.58 H1144.4 V828.7 H1145.6 V831.15 H1146.8 V833.6 H1445.2" stroke="#c8282d" stroke-width="1.6" fill="none"/>
<path d="M1024.7,715.5 H1026.33 V720.1 H1027.97 V724.7 H1029.6 V729.3 H1031.2 V737.35 H1032.8 V745.4 H1034.4 V751.1 H1036 V756.8 H1037.65 V766.5 H1039.3 V776.2 H1040.9 V784.25 H1042.5 V792.3 H1043.7 V805.25 H1044.9 V818.2 H1046.5 V834.4 H1047.75 V846.5 H1049 V858.6 H1050.6 V867.5 H1052.2 V876.4 H1053.7 V897.8 H1055.4 V905.9 H1057 V911.15 H1058.6 V916.4 H1059.93 V917.73 H1061.27 V919.07 H1062.6 V920.4 H1064.25 V926.1 H1065.9 V931.8 H1067.5 V934.2 H1069.1 V936.6 H1070.7 V939 H1072.07 V940.37 H1073.43 V941.73 H1074.8 V943.1 H1076.4 V945.23 H1078 V947.37 H1079.6 V949.5 H1081.2 V954.4 H1082.83 V955.2 H1084.45 V956 H1086.08 V956.8 H1087.7 V957.6 H1089.16 V958.42 H1090.62 V959.24 H1092.08 V960.06 H1093.54 V960.88 H1095 V961.7 H1096.48 V962.23 H1097.97 V962.77 H1099.45 V963.3 H1100.93 V963.83 H1102.42 V964.37 H1103.9 V964.9 H1105.1 V967.75 H1106.3 V970.6 H1154.8 H1155.2 V976.2 H1452.6" stroke="#2b2bd6" stroke-width="1.3" fill="none"/>
<path d="M1028,716.94V722.94 M1031,727.22V733.22 M1036,735.13V741.13 M1040,742.79V748.79 M1044,748.73V754.73 M1052,762.41V768.41 M1058,775.94V781.94 M1066,789.48V795.48 M1070,797.42V803.42 M1077,805.22V811.22 M1080,808.98V814.98 M1081.9,810.15V816.15 M1083.8,811.32V817.32 M1085.7,812.49V818.49 M1087.6,812.92V818.92 M1089.5,813.07V819.07 M1091.4,813.23V819.23 M1093.3,813.39V819.39 M1095.2,813.54V819.54 M1097.1,814.07V820.07 M1099,814.82V820.82 M1100.9,815.58V821.58 M1102.8,816.33V822.33 M1104.7,816.86V822.86 M1106.6,817.01V823.01 M1108.5,817.16V823.16 M1110.4,817.31V823.31 M1114.2,817.61V823.61 M1116.1,818.1V824.1 M1119.9,819.98V825.98 M1121.8,820.92V826.92 M1123.7,821.86V827.86 M1125.6,822.55V828.55 M1127.5,822.71V828.71 M1129.4,822.86V828.86 M1131.3,823.02V829.02 M1133.2,823.18V829.18 M1135.1,823.33V829.33 M1137,823.49V829.49 M1138.9,823.65V829.65 M1140.8,823.8V829.8 M1142.7,823.96V829.96 M1144.6,824.51V830.51 M1146.5,828.39V834.39 M1148.4,829V835 M1150.3,829V835 M1152.2,829V835 M1154.1,829V835 M1156,829V835 M1157.9,829V835 M1159.8,829V835 M1161.7,829V835 M1163.6,829V835 M1165.5,829V835 M1167.4,829V835 M1169.3,829V835 M1171.2,829V835 M1173.1,829V835 M1176.9,829V835 M1178.8,829V835 M1180.7,829V835 M1182.6,829V835 M1184.5,829V835 M1186.4,829V835 M1188.3,829V835 M1190.2,829V835 M1192.1,829V835 M1194,829V835 M1195.9,829V835 M1197.8,829V835 M1199.7,829V835 M1201.6,829V835 M1203.5,829V835 M1205.4,829V835 M1209.2,829V835 M1211.1,829V835 M1213,829V835 M1214.9,829V835 M1216.8,829V835 M1220.6,829V835 M1222.5,829V835 M1224.4,829V835 M1226.3,829V835 M1228.2,829V835 M1230.1,829V835 M1232,829V835 M1233.9,829V835 M1235.8,829V835 M1237.7,829V835 M1239.6,829V835 M1241.5,829V835 M1243.4,829V835 M1245.3,829V835 M1247.2,829V835 M1249.1,829V835 M1251,829V835 M1252.9,829V835 M1254.8,829V835 M1256.7,829V835 M1258.6,829V835 M1260.5,829V835 M1262.4,829V835 M1264.3,829V835 M1268.1,829V835 M1270,829V835 M1271.9,829V835 M1273.8,829V835 M1275.7,829V835 M1277.6,829V835 M1279.5,829V835 M1281.4,829V835 M1283.3,829V835 M1285.2,829V835 M1287.1,829V835 M1297.7,829V835 M1300,829V835 M1306.6,829V835 M1310,829V835 M1313,829V835 M1317,829V835 M1321,829V835 M1324.5,829V835 M1328.4,829V835 M1337.4,829V835 M1341,829V835 M1346.3,829V835 M1347.6,829V835 M1351,829V835 M1355,829V835 M1359.1,829V835 M1364.3,829V835 M1367,829V835 M1370.7,829V835 M1377,829V835 M1402.2,829V835 M1445.7,829V835" stroke="#c8282d" stroke-width="1.35" fill="none"/>
<path d="M1040,775.12V781.12 M1046,824.74V830.74 M1051,865.12V871.12 M1058,909.83V915.83 M1064,920.64V926.64 M1071,934.7V940.7 M1080,946.13V952.13 M1094,956.54V962.54 M1104,960.54V966.54 M1119,966V972 M1122.7,966V972 M1141.3,966V972 M1148.7,966V972 M1155.5,971.6V977.6 M1157.5,971.6V977.6 M1160,971.6V977.6 M1163.5,971.6V977.6 M1172.8,971.6V977.6 M1182,971.6V977.6 M1198.7,971.6V977.6 M1203,971.6V977.6 M1207,971.6V977.6 M1211.7,971.6V977.6 M1232,971.6V977.6 M1235,971.6V977.6 M1241,971.6V977.6 M1250.6,971.6V977.6 M1254,971.6V977.6 M1257,971.6V977.6 M1259.9,971.6V977.6 M1289.5,971.6V977.6 M1328.4,971.6V977.6 M1341.4,971.6V977.6 M1452.4,971.6V977.6" stroke="#2b2bd6" stroke-width="1.35" fill="none"/>
<text transform="translate(1301.2,879.2)" font-size="28.5" font-weight="bold" text-anchor="start" fill="#c00000">Low n= 379</text>
<text transform="translate(1302.5,947.6)" font-size="28" font-weight="bold" text-anchor="start" fill="#0000e6">High n=119</text>
<text transform="translate(1452.7,1063.6) scale(1.200,1)" font-size="24" text-anchor="end" fill="#000" stroke="#000" stroke-width="0.3">raw p 1.9e-14</text>
<text transform="translate(1452.7,1091.4) scale(1.200,1)" font-size="24" text-anchor="end" fill="#000" stroke="#000" stroke-width="0.3">bonf p 9.1e-12</text>
<text transform="translate(-1.3,1268.9) scale(1.030,1)" font-size="50.5" font-weight="bold" text-anchor="start" fill="#000">c</text>
<line x1="124.4" y1="1295.8" x2="124.4" y2="1801" stroke="#000" stroke-width="1.4"/>
<line x1="113.9" y1="1296.6" x2="124.4" y2="1296.6" stroke="#000" stroke-width="1.4"/>
<text transform="translate(108.5,1305.2) scale(0.910,1)" font-size="25" font-weight="bold" text-anchor="end" fill="#000">0.0001</text>
<line x1="118.9" y1="1361.2" x2="124.4" y2="1361.2" stroke="#000" stroke-width="1.3"/>
<line x1="118.9" y1="1398.99" x2="124.4" y2="1398.99" stroke="#000" stroke-width="1.3"/>
<line x1="118.9" y1="1425.8" x2="124.4" y2="1425.8" stroke="#000" stroke-width="1.3"/>
<line x1="118.9" y1="1446.6" x2="124.4" y2="1446.6" stroke="#000" stroke-width="1.3"/>
<line x1="118.9" y1="1463.59" x2="124.4" y2="1463.59" stroke="#000" stroke-width="1.3"/>
<line x1="118.9" y1="1477.96" x2="124.4" y2="1477.96" stroke="#000" stroke-width="1.3"/>
<line x1="118.9" y1="1490.4" x2="124.4" y2="1490.4" stroke="#000" stroke-width="1.3"/>
<line x1="118.9" y1="1501.38" x2="124.4" y2="1501.38" stroke="#000" stroke-width="1.3"/>
<line x1="113.9" y1="1511.2" x2="124.4" y2="1511.2" stroke="#000" stroke-width="1.4"/>
<text transform="translate(108.5,1519.8) scale(0.910,1)" font-size="25" font-weight="bold" text-anchor="end" fill="#000">0.001</text>
<line x1="118.9" y1="1575.8" x2="124.4" y2="1575.8" stroke="#000" stroke-width="1.3"/>
<line x1="118.9" y1="1613.59" x2="124.4" y2="1613.59" stroke="#000" stroke-width="1.3"/>
<line x1="118.9" y1="1640.4" x2="124.4" y2="1640.4" stroke="#000" stroke-width="1.3"/>
<line x1="118.9" y1="1661.2" x2="124.4" y2="1661.2" stroke="#000" stroke-width="1.3"/>
<line x1="118.9" y1="1678.19" x2="124.4" y2="1678.19" stroke="#000" stroke-width="1.3"/>
<line x1="118.9" y1="1692.56" x2="124.4" y2="1692.56" stroke="#000" stroke-width="1.3"/>
<line x1="118.9" y1="1705" x2="124.4" y2="1705" stroke="#000" stroke-width="1.3"/>
<line x1="118.9" y1="1715.98" x2="124.4" y2="1715.98" stroke="#000" stroke-width="1.3"/>
<line x1="113.9" y1="1725.8" x2="124.4" y2="1725.8" stroke="#000" stroke-width="1.4"/>
<text transform="translate(108.5,1734.4) scale(0.910,1)" font-size="25" font-weight="bold" text-anchor="end" fill="#000">0.01</text>
<text transform="translate(38.4,1603.2) rotate(-90) scale(1,0.92)" font-size="24.9" font-weight="bold">adj pvalue</text>
<line x1="118.3" y1="1790.8" x2="765.56" y2="1790.8" stroke="#000" stroke-width="1.6"/>
<line x1="124.54" y1="1790.8" x2="124.54" y2="1800.3" stroke="#000" stroke-width="1.4"/>
<text transform="translate(124.54,1830.6) scale(0.900,1)" font-size="27" font-weight="bold" text-anchor="middle" fill="#000">-12</text>
<line x1="177.9" y1="1790.8" x2="177.9" y2="1800.3" stroke="#000" stroke-width="1.4"/>
<text transform="translate(177.9,1830.6) scale(0.900,1)" font-size="27" font-weight="bold" text-anchor="middle" fill="#000">-10</text>
<line x1="231.26" y1="1790.8" x2="231.26" y2="1800.3" stroke="#000" stroke-width="1.4"/>
<text transform="translate(231.26,1830.6) scale(0.900,1)" font-size="27" font-weight="bold" text-anchor="middle" fill="#000">-8</text>
<line x1="284.62" y1="1790.8" x2="284.62" y2="1800.3" stroke="#000" stroke-width="1.4"/>
<text transform="translate(284.62,1830.6) scale(0.900,1)" font-size="27" font-weight="bold" text-anchor="middle" fill="#000">-6</text>
<line x1="337.98" y1="1790.8" x2="337.98" y2="1800.3" stroke="#000" stroke-width="1.4"/>
<text transform="translate(337.98,1830.6) scale(0.900,1)" font-size="27" font-weight="bold" text-anchor="middle" fill="#000">-4</text>
<line x1="391.34" y1="1790.8" x2="391.34" y2="1800.3" stroke="#000" stroke-width="1.4"/>
<text transform="translate(391.34,1830.6) scale(0.900,1)" font-size="27" font-weight="bold" text-anchor="middle" fill="#000">-2</text>
<line x1="444.7" y1="1790.8" x2="444.7" y2="1800.3" stroke="#000" stroke-width="1.4"/>
<text transform="translate(444.7,1830.6) scale(0.900,1)" font-size="27" font-weight="bold" text-anchor="middle" fill="#000">0</text>
<line x1="498.06" y1="1790.8" x2="498.06" y2="1800.3" stroke="#000" stroke-width="1.4"/>
<text transform="translate(498.06,1830.6) scale(0.900,1)" font-size="27" font-weight="bold" text-anchor="middle" fill="#000">2</text>
<line x1="551.42" y1="1790.8" x2="551.42" y2="1800.3" stroke="#000" stroke-width="1.4"/>
<text transform="translate(551.42,1830.6) scale(0.900,1)" font-size="27" font-weight="bold" text-anchor="middle" fill="#000">4</text>
<line x1="604.78" y1="1790.8" x2="604.78" y2="1800.3" stroke="#000" stroke-width="1.4"/>
<text transform="translate(604.78,1830.6) scale(0.900,1)" font-size="27" font-weight="bold" text-anchor="middle" fill="#000">6</text>
<line x1="658.14" y1="1790.8" x2="658.14" y2="1800.3" stroke="#000" stroke-width="1.4"/>
<text transform="translate(658.14,1830.6) scale(0.900,1)" font-size="27" font-weight="bold" text-anchor="middle" fill="#000">8</text>
<line x1="711.5" y1="1790.8" x2="711.5" y2="1800.3" stroke="#000" stroke-width="1.4"/>
<text transform="translate(711.5,1830.6) scale(0.900,1)" font-size="27" font-weight="bold" text-anchor="middle" fill="#000">10</text>
<line x1="764.86" y1="1790.8" x2="764.86" y2="1800.3" stroke="#000" stroke-width="1.4"/>
<text transform="translate(764.86,1830.6) scale(0.900,1)" font-size="27" font-weight="bold" text-anchor="middle" fill="#000">12</text>
<text transform="translate(367.6,1893.6)" font-size="33.6" font-weight="bold" text-anchor="start" fill="#000">Log2(ΔLFQ)</text>
<path d="M231.8,1516.7a5,5 0 1,0 10,0a5,5 0 1,0 -10,0z M221.5,1536.1a5,5 0 1,0 10,0a5,5 0 1,0 -10,0z M282.4,1536.1a5,5 0 1,0 10,0a5,5 0 1,0 -10,0z M320.2,1545a5,5 0 1,0 10,0a5,5 0 1,0 -10,0z M242,1569.4a5,5 0 1,0 10,0a5,5 0 1,0 -10,0z M262.2,1569.4a5,5 0 1,0 10,0a5,5 0 1,0 -10,0z M273.3,1569.4a5,5 0 1,0 10,0a5,5 0 1,0 -10,0z M191.8,1598.6a5,5 0 1,0 10,0a5,5 0 1,0 -10,0z M256.5,1601.8a5,5 0 1,0 10,0a5,5 0 1,0 -10,0z M302,1596.1a5,5 0 1,0 10,0a5,5 0 1,0 -10,0z M243.8,1633.5a5,5 0 1,0 10,0a5,5 0 1,0 -10,0z M277.7,1660.8a5,5 0 1,0 10,0a5,5 0 1,0 -10,0z M162.9,1664.5a5,5 0 1,0 10,0a5,5 0 1,0 -10,0z M252,1685.3a5,5 0 1,0 10,0a5,5 0 1,0 -10,0z M253.5,1687a5,5 0 1,0 10,0a5,5 0 1,0 -10,0z M277.7,1751.6a5,5 0 1,0 10,0a5,5 0 1,0 -10,0z M270.2,1772.4a5,5 0 1,0 10,0a5,5 0 1,0 -10,0z M418.9,1507.9a5,5 0 1,0 10,0a5,5 0 1,0 -10,0z M592.2,1402.9a5,5 0 1,0 10,0a5,5 0 1,0 -10,0z M530.6,1465.7a5,5 0 1,0 10,0a5,5 0 1,0 -10,0z M635.7,1465.7a5,5 0 1,0 10,0a5,5 0 1,0 -10,0z M585.2,1508a5,5 0 1,0 10,0a5,5 0 1,0 -10,0z M516.8,1516.7a5,5 0 1,0 10,0a5,5 0 1,0 -10,0z M715.9,1507.7a5,5 0 1,0 10,0a5,5 0 1,0 -10,0z M574.7,1535.9a5,5 0 1,0 10,0a5,5 0 1,0 -10,0z M607,1535.9a5,5 0 1,0 10,0a5,5 0 1,0 -10,0z M697.4,1535.9a5,5 0 1,0 10,0a5,5 0 1,0 -10,0z M646.5,1569.2a5,5 0 1,0 10,0a5,5 0 1,0 -10,0z M687.3,1572.8a5,5 0 1,0 10,0a5,5 0 1,0 -10,0z M606.1,1608.3a5,5 0 1,0 10,0a5,5 0 1,0 -10,0z M591.4,1646a5,5 0 1,0 10,0a5,5 0 1,0 -10,0z M599.9,1646a5,5 0 1,0 10,0a5,5 0 1,0 -10,0z M679.5,1643.2a5,5 0 1,0 10,0a5,5 0 1,0 -10,0z M628.8,1663a5,5 0 1,0 10,0a5,5 0 1,0 -10,0z M579.2,1664a5,5 0 1,0 10,0a5,5 0 1,0 -10,0z M349.9,1559.7a5,5 0 1,0 10,0a5,5 0 1,0 -10,0z M376.2,1559.7a5,5 0 1,0 10,0a5,5 0 1,0 -10,0z M393.1,1568.9a5,5 0 1,0 10,0a5,5 0 1,0 -10,0z M399.1,1569.5a5,5 0 1,0 10,0a5,5 0 1,0 -10,0z M334.4,1581.3a5,5 0 1,0 10,0a5,5 0 1,0 -10,0z M342.5,1581.3a5,5 0 1,0 10,0a5,5 0 1,0 -10,0z M349.9,1581.3a5,5 0 1,0 10,0a5,5 0 1,0 -10,0z M366.1,1581.3a5,5 0 1,0 10,0a5,5 0 1,0 -10,0z M373.2,1581.3a5,5 0 1,0 10,0a5,5 0 1,0 -10,0z M385,1581.3a5,5 0 1,0 10,0a5,5 0 1,0 -10,0z M343.9,1593.8a5,5 0 1,0 10,0a5,5 0 1,0 -10,0z M358.7,1610.6a5,5 0 1,0 10,0a5,5 0 1,0 -10,0z M360.7,1614.7a5,5 0 1,0 10,0a5,5 0 1,0 -10,0z M344.5,1620.8a5,5 0 1,0 10,0a5,5 0 1,0 -10,0z M329,1627.9a5,5 0 1,0 10,0a5,5 0 1,0 -10,0z M354,1628.2a5,5 0 1,0 10,0a5,5 0 1,0 -10,0z M356,1623.4a5,5 0 1,0 10,0a5,5 0 1,0 -10,0z M366.8,1627.1a5,5 0 1,0 10,0a5,5 0 1,0 -10,0z M376.2,1626.1a5,5 0 1,0 10,0a5,5 0 1,0 -10,0z M381.6,1628.2a5,5 0 1,0 10,0a5,5 0 1,0 -10,0z M391,1616.7a5,5 0 1,0 10,0a5,5 0 1,0 -10,0z M300,1646a5,5 0 1,0 10,0a5,5 0 1,0 -10,0z M320.2,1643a5,5 0 1,0 10,0a5,5 0 1,0 -10,0z M326.2,1643a5,5 0 1,0 10,0a5,5 0 1,0 -10,0z M327.7,1643a5,5 0 1,0 10,0a5,5 0 1,0 -10,0z M366.8,1643a5,5 0 1,0 10,0a5,5 0 1,0 -10,0z M372.2,1647a5,5 0 1,0 10,0a5,5 0 1,0 -10,0z M381.6,1643a5,5 0 1,0 10,0a5,5 0 1,0 -10,0z M376.2,1649.7a5,5 0 1,0 10,0a5,5 0 1,0 -10,0z M391.7,1643a5,5 0 1,0 10,0a5,5 0 1,0 -10,0z M393.7,1654.4a5,5 0 1,0 10,0a5,5 0 1,0 -10,0z M374.9,1659.8a5,5 0 1,0 10,0a5,5 0 1,0 -10,0z M381.6,1666.6a5,5 0 1,0 10,0a5,5 0 1,0 -10,0z M392.4,1670.6a5,5 0 1,0 10,0a5,5 0 1,0 -10,0z M341.8,1676.7a5,5 0 1,0 10,0a5,5 0 1,0 -10,0z M354,1673.3a5,5 0 1,0 10,0a5,5 0 1,0 -10,0z M361.4,1677.4a5,5 0 1,0 10,0a5,5 0 1,0 -10,0z M337.8,1690.8a5,5 0 1,0 10,0a5,5 0 1,0 -10,0z M371.5,1695.6a5,5 0 1,0 10,0a5,5 0 1,0 -10,0z M381.6,1688.1a5,5 0 1,0 10,0a5,5 0 1,0 -10,0z M387,1684.8a5,5 0 1,0 10,0a5,5 0 1,0 -10,0z M341.4,1677.4a5,5 0 1,0 10,0a5,5 0 1,0 -10,0z M353.5,1673.4a5,5 0 1,0 10,0a5,5 0 1,0 -10,0z M361.6,1677.4a5,5 0 1,0 10,0a5,5 0 1,0 -10,0z M320.2,1690.5a5,5 0 1,0 10,0a5,5 0 1,0 -10,0z M321.2,1699.6a5,5 0 1,0 10,0a5,5 0 1,0 -10,0z M337.4,1691.5a5,5 0 1,0 10,0a5,5 0 1,0 -10,0z M341.4,1703.7a5,5 0 1,0 10,0a5,5 0 1,0 -10,0z M349.5,1714.4a5,5 0 1,0 10,0a5,5 0 1,0 -10,0z M353.1,1714.4a5,5 0 1,0 10,0a5,5 0 1,0 -10,0z M342.4,1744.1a5,5 0 1,0 10,0a5,5 0 1,0 -10,0z M353.1,1767.4a5,5 0 1,0 10,0a5,5 0 1,0 -10,0z M355.5,1790a5,5 0 1,0 10,0a5,5 0 1,0 -10,0z M358.6,1744.1a5,5 0 1,0 10,0a5,5 0 1,0 -10,0z M360.6,1749.2a5,5 0 1,0 10,0a5,5 0 1,0 -10,0z M367.7,1754.2a5,5 0 1,0 10,0a5,5 0 1,0 -10,0z M363.6,1754.2a5,5 0 1,0 10,0a5,5 0 1,0 -10,0z M367.7,1765.3a5,5 0 1,0 10,0a5,5 0 1,0 -10,0z M369.7,1768.4a5,5 0 1,0 10,0a5,5 0 1,0 -10,0z M373.7,1779.5a5,5 0 1,0 10,0a5,5 0 1,0 -10,0z M376.8,1789.6a5,5 0 1,0 10,0a5,5 0 1,0 -10,0z M371.7,1694.6a5,5 0 1,0 10,0a5,5 0 1,0 -10,0z M372.7,1703.7a5,5 0 1,0 10,0a5,5 0 1,0 -10,0z M368.7,1713.8a5,5 0 1,0 10,0a5,5 0 1,0 -10,0z M375.8,1747.1a5,5 0 1,0 10,0a5,5 0 1,0 -10,0z M381.8,1733a5,5 0 1,0 10,0a5,5 0 1,0 -10,0z M386.9,1722.9a5,5 0 1,0 10,0a5,5 0 1,0 -10,0z M379.8,1688.5a5,5 0 1,0 10,0a5,5 0 1,0 -10,0z M386.9,1685.5a5,5 0 1,0 10,0a5,5 0 1,0 -10,0z M374.8,1659.2a5,5 0 1,0 10,0a5,5 0 1,0 -10,0z M381.8,1666.3a5,5 0 1,0 10,0a5,5 0 1,0 -10,0z M392.9,1670.3a5,5 0 1,0 10,0a5,5 0 1,0 -10,0z M394,1654.1a5,5 0 1,0 10,0a5,5 0 1,0 -10,0z M367.7,1644a5,5 0 1,0 10,0a5,5 0 1,0 -10,0z M375.8,1649.1a5,5 0 1,0 10,0a5,5 0 1,0 -10,0z M381.8,1644a5,5 0 1,0 10,0a5,5 0 1,0 -10,0z M300,1769.4a5,5 0 1,0 10,0a5,5 0 1,0 -10,0z M291.3,1783.1a5,5 0 1,0 10,0a5,5 0 1,0 -10,0z M332.3,1772.4a5,5 0 1,0 10,0a5,5 0 1,0 -10,0z M341.2,1680a5,5 0 1,0 10,0a5,5 0 1,0 -10,0z M360.7,1680a5,5 0 1,0 10,0a5,5 0 1,0 -10,0z M337.8,1691.9a5,5 0 1,0 10,0a5,5 0 1,0 -10,0z M341.8,1703.2a5,5 0 1,0 10,0a5,5 0 1,0 -10,0z M349.9,1714.4a5,5 0 1,0 10,0a5,5 0 1,0 -10,0z M380.9,1688.8a5,5 0 1,0 10,0a5,5 0 1,0 -10,0z M387.7,1686.1a5,5 0 1,0 10,0a5,5 0 1,0 -10,0z M386.3,1706.3a5,5 0 1,0 10,0a5,5 0 1,0 -10,0z M392.4,1712.3a5,5 0 1,0 10,0a5,5 0 1,0 -10,0z M387,1722.9a5,5 0 1,0 10,0a5,5 0 1,0 -10,0z M382.3,1733.9a5,5 0 1,0 10,0a5,5 0 1,0 -10,0z M342.5,1744.4a5,5 0 1,0 10,0a5,5 0 1,0 -10,0z M360,1743.3a5,5 0 1,0 10,0a5,5 0 1,0 -10,0z M376.2,1748.1a5,5 0 1,0 10,0a5,5 0 1,0 -10,0z M367.5,1764.2a5,5 0 1,0 10,0a5,5 0 1,0 -10,0z M368.8,1768.9a5,5 0 1,0 10,0a5,5 0 1,0 -10,0z M352.6,1766.9a5,5 0 1,0 10,0a5,5 0 1,0 -10,0z M332.4,1772.3a5,5 0 1,0 10,0a5,5 0 1,0 -10,0z M388.3,1763.6a5,5 0 1,0 10,0a5,5 0 1,0 -10,0z M387,1767.6a5,5 0 1,0 10,0a5,5 0 1,0 -10,0z M394.4,1748.7a5,5 0 1,0 10,0a5,5 0 1,0 -10,0z M374.2,1779.7a5,5 0 1,0 10,0a5,5 0 1,0 -10,0z M355.3,1789.8a5,5 0 1,0 10,0a5,5 0 1,0 -10,0z M376.2,1789.4a5,5 0 1,0 10,0a5,5 0 1,0 -10,0z M388.3,1779.7a5,5 0 1,0 10,0a5,5 0 1,0 -10,0z M395.1,1779.7a5,5 0 1,0 10,0a5,5 0 1,0 -10,0z M333.7,1581.4a5,5 0 1,0 10,0a5,5 0 1,0 -10,0z M365.7,1581.4a5,5 0 1,0 10,0a5,5 0 1,0 -10,0z M384.9,1581.4a5,5 0 1,0 10,0a5,5 0 1,0 -10,0z M344,1594.1a5,5 0 1,0 10,0a5,5 0 1,0 -10,0z M399.6,1594.1a5,5 0 1,0 10,0a5,5 0 1,0 -10,0z M396.4,1612.7a5,5 0 1,0 10,0a5,5 0 1,0 -10,0z M485.1,1569.3a5,5 0 1,0 10,0a5,5 0 1,0 -10,0z M463.1,1581.3a5,5 0 1,0 10,0a5,5 0 1,0 -10,0z M475.3,1581.3a5,5 0 1,0 10,0a5,5 0 1,0 -10,0z M487.4,1581.3a5,5 0 1,0 10,0a5,5 0 1,0 -10,0z M496.8,1581.3a5,5 0 1,0 10,0a5,5 0 1,0 -10,0z M521.8,1581.3a5,5 0 1,0 10,0a5,5 0 1,0 -10,0z M461.1,1601.9a5,5 0 1,0 10,0a5,5 0 1,0 -10,0z M476.6,1595.8a5,5 0 1,0 10,0a5,5 0 1,0 -10,0z M483.4,1598.5a5,5 0 1,0 10,0a5,5 0 1,0 -10,0z M478,1602.6a5,5 0 1,0 10,0a5,5 0 1,0 -10,0z M496.2,1598.5a5,5 0 1,0 10,0a5,5 0 1,0 -10,0z M508.3,1593.8a5,5 0 1,0 10,0a5,5 0 1,0 -10,0z M463.1,1612.3a5,5 0 1,0 10,0a5,5 0 1,0 -10,0z M489.4,1616a5,5 0 1,0 10,0a5,5 0 1,0 -10,0z M503.6,1613.3a5,5 0 1,0 10,0a5,5 0 1,0 -10,0z M498.9,1623.4a5,5 0 1,0 10,0a5,5 0 1,0 -10,0z M488.1,1630.9a5,5 0 1,0 10,0a5,5 0 1,0 -10,0z M498.9,1632.2a5,5 0 1,0 10,0a5,5 0 1,0 -10,0z M515,1636.3a5,5 0 1,0 10,0a5,5 0 1,0 -10,0z M519.1,1645a5,5 0 1,0 10,0a5,5 0 1,0 -10,0z M484,1643a5,5 0 1,0 10,0a5,5 0 1,0 -10,0z M481.3,1654.4a5,5 0 1,0 10,0a5,5 0 1,0 -10,0z M489.4,1661.9a5,5 0 1,0 10,0a5,5 0 1,0 -10,0z M486.7,1674a5,5 0 1,0 10,0a5,5 0 1,0 -10,0z M496.8,1676.7a5,5 0 1,0 10,0a5,5 0 1,0 -10,0z M509,1674.7a5,5 0 1,0 10,0a5,5 0 1,0 -10,0z M513.7,1682.1a5,5 0 1,0 10,0a5,5 0 1,0 -10,0z M520.4,1671.3a5,5 0 1,0 10,0a5,5 0 1,0 -10,0z M482.7,1690.2a5,5 0 1,0 10,0a5,5 0 1,0 -10,0z M489.4,1686.1a5,5 0 1,0 10,0a5,5 0 1,0 -10,0z M500.2,1696.9a5,5 0 1,0 10,0a5,5 0 1,0 -10,0z M522.2,1581.3a5,5 0 1,0 10,0a5,5 0 1,0 -10,0z M539.5,1588.5a5,5 0 1,0 10,0a5,5 0 1,0 -10,0z M548,1581.3a5,5 0 1,0 10,0a5,5 0 1,0 -10,0z M556.9,1581.3a5,5 0 1,0 10,0a5,5 0 1,0 -10,0z M527.8,1596.6a5,5 0 1,0 10,0a5,5 0 1,0 -10,0z M549.5,1593.6a5,5 0 1,0 10,0a5,5 0 1,0 -10,0z M559.3,1593.6a5,5 0 1,0 10,0a5,5 0 1,0 -10,0z M563.7,1598.5a5,5 0 1,0 10,0a5,5 0 1,0 -10,0z M569.3,1613.6a5,5 0 1,0 10,0a5,5 0 1,0 -10,0z M531,1626.2a5,5 0 1,0 10,0a5,5 0 1,0 -10,0z M564.4,1627.7a5,5 0 1,0 10,0a5,5 0 1,0 -10,0z M516.9,1636.6a5,5 0 1,0 10,0a5,5 0 1,0 -10,0z M519.7,1645.7a5,5 0 1,0 10,0a5,5 0 1,0 -10,0z M529.2,1654.5a5,5 0 1,0 10,0a5,5 0 1,0 -10,0z M538,1654.5a5,5 0 1,0 10,0a5,5 0 1,0 -10,0z M521.6,1669.6a5,5 0 1,0 10,0a5,5 0 1,0 -10,0z M526.3,1667.7a5,5 0 1,0 10,0a5,5 0 1,0 -10,0z M581.6,1750.4a5,5 0 1,0 10,0a5,5 0 1,0 -10,0z M573.1,1767.4a5,5 0 1,0 10,0a5,5 0 1,0 -10,0z M570.3,1759.8a5,5 0 1,0 10,0a5,5 0 1,0 -10,0z M575.6,1707.9a5,5 0 1,0 10,0a5,5 0 1,0 -10,0z M577.8,1718.3a5,5 0 1,0 10,0a5,5 0 1,0 -10,0z M546.7,1686.2a5,5 0 1,0 10,0a5,5 0 1,0 -10,0z M538.2,1695.7a5,5 0 1,0 10,0a5,5 0 1,0 -10,0z M554.6,1704.2a5,5 0 1,0 10,0a5,5 0 1,0 -10,0z M548.6,1712.6a5,5 0 1,0 10,0a5,5 0 1,0 -10,0z M552.4,1730.6a5,5 0 1,0 10,0a5,5 0 1,0 -10,0z M560.8,1730.6a5,5 0 1,0 10,0a5,5 0 1,0 -10,0z M550.5,1748.5a5,5 0 1,0 10,0a5,5 0 1,0 -10,0z M556.1,1747.5a5,5 0 1,0 10,0a5,5 0 1,0 -10,0z M549.5,1764.5a5,5 0 1,0 10,0a5,5 0 1,0 -10,0z M552.4,1769.2a5,5 0 1,0 10,0a5,5 0 1,0 -10,0z M563.7,1787.2a5,5 0 1,0 10,0a5,5 0 1,0 -10,0z M578.8,1664.5a5,5 0 1,0 10,0a5,5 0 1,0 -10,0z M521.2,1786.2a5,5 0 1,0 10,0a5,5 0 1,0 -10,0z M510.8,1789.1a5,5 0 1,0 10,0a5,5 0 1,0 -10,0z M505.2,1779.6a5,5 0 1,0 10,0a5,5 0 1,0 -10,0z M525,1773a5,5 0 1,0 10,0a5,5 0 1,0 -10,0z M531.6,1766.8a5,5 0 1,0 10,0a5,5 0 1,0 -10,0z M516.9,1761.7a5,5 0 1,0 10,0a5,5 0 1,0 -10,0z M519.9,1751.3a5,5 0 1,0 10,0a5,5 0 1,0 -10,0z M521.2,1740a5,5 0 1,0 10,0a5,5 0 1,0 -10,0z M525,1732.8a5,5 0 1,0 10,0a5,5 0 1,0 -10,0z M514.6,1681.5a5,5 0 1,0 10,0a5,5 0 1,0 -10,0z M508,1674.9a5,5 0 1,0 10,0a5,5 0 1,0 -10,0z M520.3,1672.1a5,5 0 1,0 10,0a5,5 0 1,0 -10,0z M525.9,1668.3a5,5 0 1,0 10,0a5,5 0 1,0 -10,0z M528.8,1654.2a5,5 0 1,0 10,0a5,5 0 1,0 -10,0z M538.2,1654.2a5,5 0 1,0 10,0a5,5 0 1,0 -10,0z M519.3,1645.7a5,5 0 1,0 10,0a5,5 0 1,0 -10,0z M496.7,1676.8a5,5 0 1,0 10,0a5,5 0 1,0 -10,0z M500.5,1697.5a5,5 0 1,0 10,0a5,5 0 1,0 -10,0z M499.5,1704.2a5,5 0 1,0 10,0a5,5 0 1,0 -10,0z M498.6,1711.7a5,5 0 1,0 10,0a5,5 0 1,0 -10,0z M497.6,1727.7a5,5 0 1,0 10,0a5,5 0 1,0 -10,0z M495.8,1734.3a5,5 0 1,0 10,0a5,5 0 1,0 -10,0z M492.9,1743.8a5,5 0 1,0 10,0a5,5 0 1,0 -10,0z M487.3,1748.5a5,5 0 1,0 10,0a5,5 0 1,0 -10,0z M500.2,1697.5a5,5 0 1,0 10,0a5,5 0 1,0 -10,0z M500.2,1704.3a5,5 0 1,0 10,0a5,5 0 1,0 -10,0z M498.9,1712.3a5,5 0 1,0 10,0a5,5 0 1,0 -10,0z M496.8,1727.8a5,5 0 1,0 10,0a5,5 0 1,0 -10,0z M496.2,1733.9a5,5 0 1,0 10,0a5,5 0 1,0 -10,0z M492.8,1744a5,5 0 1,0 10,0a5,5 0 1,0 -10,0z M487.4,1748.1a5,5 0 1,0 10,0a5,5 0 1,0 -10,0z M514.4,1682.7a5,5 0 1,0 10,0a5,5 0 1,0 -10,0z M523.1,1731.2a5,5 0 1,0 10,0a5,5 0 1,0 -10,0z M521.1,1740.6a5,5 0 1,0 10,0a5,5 0 1,0 -10,0z M519.7,1750.8a5,5 0 1,0 10,0a5,5 0 1,0 -10,0z M517,1761.5a5,5 0 1,0 10,0a5,5 0 1,0 -10,0z M523.1,1774.3a5,5 0 1,0 10,0a5,5 0 1,0 -10,0z M521.8,1786.5a5,5 0 1,0 10,0a5,5 0 1,0 -10,0z M505.6,1779.7a5,5 0 1,0 10,0a5,5 0 1,0 -10,0z M511,1789.2a5,5 0 1,0 10,0a5,5 0 1,0 -10,0z M486.7,1715a5,5 0 1,0 10,0a5,5 0 1,0 -10,0z M484,1731.2a5,5 0 1,0 10,0a5,5 0 1,0 -10,0z M485.4,1766.3a5,5 0 1,0 10,0a5,5 0 1,0 -10,0z M484,1777a5,5 0 1,0 10,0a5,5 0 1,0 -10,0z M481.3,1786.5a5,5 0 1,0 10,0a5,5 0 1,0 -10,0z M450.3,1626.8a5,5 0 1,0 10,0a5,5 0 1,0 -10,0z M459.8,1623.4a5,5 0 1,0 10,0a5,5 0 1,0 -10,0z M466.5,1623.4a5,5 0 1,0 10,0a5,5 0 1,0 -10,0z M478.6,1622.8a5,5 0 1,0 10,0a5,5 0 1,0 -10,0z M484,1625.5a5,5 0 1,0 10,0a5,5 0 1,0 -10,0z M490.8,1625.5a5,5 0 1,0 10,0a5,5 0 1,0 -10,0z M451.7,1694.9a5,5 0 1,0 10,0a5,5 0 1,0 -10,0z M450.3,1663.2a5,5 0 1,0 10,0a5,5 0 1,0 -10,0z M404.5,1581.3a5,5 0 1,0 10,0a5,5 0 1,0 -10,0z M411.3,1581.3a5,5 0 1,0 10,0a5,5 0 1,0 -10,0z M418,1581.3a5,5 0 1,0 10,0a5,5 0 1,0 -10,0z M422,1581.3a5,5 0 1,0 10,0a5,5 0 1,0 -10,0z M399.8,1593.8a5,5 0 1,0 10,0a5,5 0 1,0 -10,0z M400.5,1601.9a5,5 0 1,0 10,0a5,5 0 1,0 -10,0z M416.6,1590.4a5,5 0 1,0 10,0a5,5 0 1,0 -10,0z M419.3,1595.8a5,5 0 1,0 10,0a5,5 0 1,0 -10,0z M427.4,1596.5a5,5 0 1,0 10,0a5,5 0 1,0 -10,0z M422,1601.2a5,5 0 1,0 10,0a5,5 0 1,0 -10,0z M411.3,1613.3a5,5 0 1,0 10,0a5,5 0 1,0 -10,0z M419.3,1612a5,5 0 1,0 10,0a5,5 0 1,0 -10,0z M405.63,1589.94a5,5 0 1,0 10,0a5,5 0 1,0 -10,0z M415.53,1588.21a5,5 0 1,0 10,0a5,5 0 1,0 -10,0z M404.16,1595.54a5,5 0 1,0 10,0a5,5 0 1,0 -10,0z M417.44,1594.14a5,5 0 1,0 10,0a5,5 0 1,0 -10,0z M423.06,1593.22a5,5 0 1,0 10,0a5,5 0 1,0 -10,0z M428.91,1593.86a5,5 0 1,0 10,0a5,5 0 1,0 -10,0z M409.39,1604.68a5,5 0 1,0 10,0a5,5 0 1,0 -10,0z M423.15,1602.42a5,5 0 1,0 10,0a5,5 0 1,0 -10,0z M429.64,1602.78a5,5 0 1,0 10,0a5,5 0 1,0 -10,0z M411.9,1608.73a5,5 0 1,0 10,0a5,5 0 1,0 -10,0z M415.3,1608.93a5,5 0 1,0 10,0a5,5 0 1,0 -10,0z M401.98,1612.56a5,5 0 1,0 10,0a5,5 0 1,0 -10,0z M412.41,1611.61a5,5 0 1,0 10,0a5,5 0 1,0 -10,0z M428.39,1610.87a5,5 0 1,0 10,0a5,5 0 1,0 -10,0z M401.71,1613.97a5,5 0 1,0 10,0a5,5 0 1,0 -10,0z M406.07,1614.01a5,5 0 1,0 10,0a5,5 0 1,0 -10,0z M416.94,1613.77a5,5 0 1,0 10,0a5,5 0 1,0 -10,0z M421.11,1614.26a5,5 0 1,0 10,0a5,5 0 1,0 -10,0z M409.72,1618.6a5,5 0 1,0 10,0a5,5 0 1,0 -10,0z M414.85,1619.98a5,5 0 1,0 10,0a5,5 0 1,0 -10,0z M420.37,1618.61a5,5 0 1,0 10,0a5,5 0 1,0 -10,0z M425.05,1618.98a5,5 0 1,0 10,0a5,5 0 1,0 -10,0z M428.58,1618.21a5,5 0 1,0 10,0a5,5 0 1,0 -10,0z M400.38,1624.37a5,5 0 1,0 10,0a5,5 0 1,0 -10,0z M406.09,1625.52a5,5 0 1,0 10,0a5,5 0 1,0 -10,0z M411.58,1625.22a5,5 0 1,0 10,0a5,5 0 1,0 -10,0z M415.77,1625.35a5,5 0 1,0 10,0a5,5 0 1,0 -10,0z M426.26,1624.81a5,5 0 1,0 10,0a5,5 0 1,0 -10,0z M409.88,1629.8a5,5 0 1,0 10,0a5,5 0 1,0 -10,0z M413.81,1627.3a5,5 0 1,0 10,0a5,5 0 1,0 -10,0z M420.31,1627.73a5,5 0 1,0 10,0a5,5 0 1,0 -10,0z M423.82,1629.61a5,5 0 1,0 10,0a5,5 0 1,0 -10,0z M429.1,1627.53a5,5 0 1,0 10,0a5,5 0 1,0 -10,0z M405.55,1633.29a5,5 0 1,0 10,0a5,5 0 1,0 -10,0z M416.07,1634.43a5,5 0 1,0 10,0a5,5 0 1,0 -10,0z M420.64,1632.36a5,5 0 1,0 10,0a5,5 0 1,0 -10,0z M425.95,1632.06a5,5 0 1,0 10,0a5,5 0 1,0 -10,0z M403.77,1636.44a5,5 0 1,0 10,0a5,5 0 1,0 -10,0z M409.74,1639.16a5,5 0 1,0 10,0a5,5 0 1,0 -10,0z M414.46,1637.89a5,5 0 1,0 10,0a5,5 0 1,0 -10,0z M418.08,1636.08a5,5 0 1,0 10,0a5,5 0 1,0 -10,0z M430.71,1636.09a5,5 0 1,0 10,0a5,5 0 1,0 -10,0z M400.96,1642.88a5,5 0 1,0 10,0a5,5 0 1,0 -10,0z M407.4,1640.78a5,5 0 1,0 10,0a5,5 0 1,0 -10,0z M411.97,1643.42a5,5 0 1,0 10,0a5,5 0 1,0 -10,0z M422.5,1643.47a5,5 0 1,0 10,0a5,5 0 1,0 -10,0z M427.44,1643.43a5,5 0 1,0 10,0a5,5 0 1,0 -10,0z M409.5,1647.83a5,5 0 1,0 10,0a5,5 0 1,0 -10,0z M414.3,1646.29a5,5 0 1,0 10,0a5,5 0 1,0 -10,0z M419.46,1645.32a5,5 0 1,0 10,0a5,5 0 1,0 -10,0z M425.58,1647.88a5,5 0 1,0 10,0a5,5 0 1,0 -10,0z M401.56,1651.45a5,5 0 1,0 10,0a5,5 0 1,0 -10,0z M407.01,1649.86a5,5 0 1,0 10,0a5,5 0 1,0 -10,0z M416.84,1651.13a5,5 0 1,0 10,0a5,5 0 1,0 -10,0z M422.28,1651.18a5,5 0 1,0 10,0a5,5 0 1,0 -10,0z M428.01,1650.41a5,5 0 1,0 10,0a5,5 0 1,0 -10,0z M403.12,1656.29a5,5 0 1,0 10,0a5,5 0 1,0 -10,0z M408.01,1657.01a5,5 0 1,0 10,0a5,5 0 1,0 -10,0z M413.86,1656.97a5,5 0 1,0 10,0a5,5 0 1,0 -10,0z M419.6,1654.75a5,5 0 1,0 10,0a5,5 0 1,0 -10,0z M425.13,1657.04a5,5 0 1,0 10,0a5,5 0 1,0 -10,0z M401.2,1659.65a5,5 0 1,0 10,0a5,5 0 1,0 -10,0z M406.19,1661.32a5,5 0 1,0 10,0a5,5 0 1,0 -10,0z M417.68,1659.53a5,5 0 1,0 10,0a5,5 0 1,0 -10,0z M421.68,1659.52a5,5 0 1,0 10,0a5,5 0 1,0 -10,0z M426.79,1660.64a5,5 0 1,0 10,0a5,5 0 1,0 -10,0z M403.16,1665.85a5,5 0 1,0 10,0a5,5 0 1,0 -10,0z M412.98,1663.26a5,5 0 1,0 10,0a5,5 0 1,0 -10,0z M424.9,1664.99a5,5 0 1,0 10,0a5,5 0 1,0 -10,0z M430.3,1663.23a5,5 0 1,0 10,0a5,5 0 1,0 -10,0z M400.89,1667.77a5,5 0 1,0 10,0a5,5 0 1,0 -10,0z M410.54,1667.84a5,5 0 1,0 10,0a5,5 0 1,0 -10,0z M416.47,1669.7a5,5 0 1,0 10,0a5,5 0 1,0 -10,0z M422.54,1670.76a5,5 0 1,0 10,0a5,5 0 1,0 -10,0z M426.28,1669.21a5,5 0 1,0 10,0a5,5 0 1,0 -10,0z M402.43,1673.72a5,5 0 1,0 10,0a5,5 0 1,0 -10,0z M408.03,1673.08a5,5 0 1,0 10,0a5,5 0 1,0 -10,0z M414.47,1673.88a5,5 0 1,0 10,0a5,5 0 1,0 -10,0z M419.81,1673.47a5,5 0 1,0 10,0a5,5 0 1,0 -10,0z M402.04,1679.05a5,5 0 1,0 10,0a5,5 0 1,0 -10,0z M406.09,1678.74a5,5 0 1,0 10,0a5,5 0 1,0 -10,0z M416.77,1679.55a5,5 0 1,0 10,0a5,5 0 1,0 -10,0z M403.96,1681.92a5,5 0 1,0 10,0a5,5 0 1,0 -10,0z M419.72,1681.94a5,5 0 1,0 10,0a5,5 0 1,0 -10,0z M406.9,1686.81a5,5 0 1,0 10,0a5,5 0 1,0 -10,0z M420.8,1687.19a5,5 0 1,0 10,0a5,5 0 1,0 -10,0z M427.64,1687.34a5,5 0 1,0 10,0a5,5 0 1,0 -10,0z M404.34,1690.51a5,5 0 1,0 10,0a5,5 0 1,0 -10,0z M413.6,1692.83a5,5 0 1,0 10,0a5,5 0 1,0 -10,0z M418.36,1691.96a5,5 0 1,0 10,0a5,5 0 1,0 -10,0z M402.07,1696.41a5,5 0 1,0 10,0a5,5 0 1,0 -10,0z M410.73,1696.52a5,5 0 1,0 10,0a5,5 0 1,0 -10,0z M417.15,1696.88a5,5 0 1,0 10,0a5,5 0 1,0 -10,0z M422.62,1696.62a5,5 0 1,0 10,0a5,5 0 1,0 -10,0z M426.71,1697.54a5,5 0 1,0 10,0a5,5 0 1,0 -10,0z M406.04,1701.5a5,5 0 1,0 10,0a5,5 0 1,0 -10,0z M410.58,1699.04a5,5 0 1,0 10,0a5,5 0 1,0 -10,0z M415.61,1700.34a5,5 0 1,0 10,0a5,5 0 1,0 -10,0z M421.93,1700.05a5,5 0 1,0 10,0a5,5 0 1,0 -10,0z M426.72,1700.2a5,5 0 1,0 10,0a5,5 0 1,0 -10,0z M403.06,1703.13a5,5 0 1,0 10,0a5,5 0 1,0 -10,0z M407.59,1705.99a5,5 0 1,0 10,0a5,5 0 1,0 -10,0z M418.14,1703.33a5,5 0 1,0 10,0a5,5 0 1,0 -10,0z M424.16,1705.81a5,5 0 1,0 10,0a5,5 0 1,0 -10,0z M428.16,1703.54a5,5 0 1,0 10,0a5,5 0 1,0 -10,0z M401.02,1707.86a5,5 0 1,0 10,0a5,5 0 1,0 -10,0z M404.05,1708.07a5,5 0 1,0 10,0a5,5 0 1,0 -10,0z M410.85,1708.48a5,5 0 1,0 10,0a5,5 0 1,0 -10,0z M415.89,1707.78a5,5 0 1,0 10,0a5,5 0 1,0 -10,0z M419.89,1709.08a5,5 0 1,0 10,0a5,5 0 1,0 -10,0z M425.27,1709.15a5,5 0 1,0 10,0a5,5 0 1,0 -10,0z M402.3,1713.29a5,5 0 1,0 10,0a5,5 0 1,0 -10,0z M406.98,1712.63a5,5 0 1,0 10,0a5,5 0 1,0 -10,0z M413.33,1713.67a5,5 0 1,0 10,0a5,5 0 1,0 -10,0z M418.47,1714.71a5,5 0 1,0 10,0a5,5 0 1,0 -10,0z M423.98,1714.57a5,5 0 1,0 10,0a5,5 0 1,0 -10,0z M399.56,1719.45a5,5 0 1,0 10,0a5,5 0 1,0 -10,0z M406.4,1719.34a5,5 0 1,0 10,0a5,5 0 1,0 -10,0z M409.77,1718.82a5,5 0 1,0 10,0a5,5 0 1,0 -10,0z M414.63,1719.16a5,5 0 1,0 10,0a5,5 0 1,0 -10,0z M421.5,1716.9a5,5 0 1,0 10,0a5,5 0 1,0 -10,0z M426.44,1716.55a5,5 0 1,0 10,0a5,5 0 1,0 -10,0z M403.04,1723.94a5,5 0 1,0 10,0a5,5 0 1,0 -10,0z M413.01,1723.45a5,5 0 1,0 10,0a5,5 0 1,0 -10,0z M418.65,1721.62a5,5 0 1,0 10,0a5,5 0 1,0 -10,0z M422.45,1721.14a5,5 0 1,0 10,0a5,5 0 1,0 -10,0z M428.64,1722.84a5,5 0 1,0 10,0a5,5 0 1,0 -10,0z M399.24,1726.2a5,5 0 1,0 10,0a5,5 0 1,0 -10,0z M406.38,1728.51a5,5 0 1,0 10,0a5,5 0 1,0 -10,0z M409.35,1728.59a5,5 0 1,0 10,0a5,5 0 1,0 -10,0z M416.24,1726.59a5,5 0 1,0 10,0a5,5 0 1,0 -10,0z M420.84,1726.92a5,5 0 1,0 10,0a5,5 0 1,0 -10,0z M424.83,1727.79a5,5 0 1,0 10,0a5,5 0 1,0 -10,0z M401.84,1731.52a5,5 0 1,0 10,0a5,5 0 1,0 -10,0z M407.57,1730.69a5,5 0 1,0 10,0a5,5 0 1,0 -10,0z M413.03,1730.12a5,5 0 1,0 10,0a5,5 0 1,0 -10,0z M418.92,1732.32a5,5 0 1,0 10,0a5,5 0 1,0 -10,0z M423.71,1731.36a5,5 0 1,0 10,0a5,5 0 1,0 -10,0z M428.61,1733.21a5,5 0 1,0 10,0a5,5 0 1,0 -10,0z M399.42,1737.51a5,5 0 1,0 10,0a5,5 0 1,0 -10,0z M405.87,1737.2a5,5 0 1,0 10,0a5,5 0 1,0 -10,0z M411.35,1737.41a5,5 0 1,0 10,0a5,5 0 1,0 -10,0z M416.24,1737.04a5,5 0 1,0 10,0a5,5 0 1,0 -10,0z M421.33,1734.82a5,5 0 1,0 10,0a5,5 0 1,0 -10,0z M425.93,1734.63a5,5 0 1,0 10,0a5,5 0 1,0 -10,0z M402.93,1741.11a5,5 0 1,0 10,0a5,5 0 1,0 -10,0z M408.87,1741.25a5,5 0 1,0 10,0a5,5 0 1,0 -10,0z M413.38,1740.94a5,5 0 1,0 10,0a5,5 0 1,0 -10,0z M417.94,1742.32a5,5 0 1,0 10,0a5,5 0 1,0 -10,0z M423.88,1741.55a5,5 0 1,0 10,0a5,5 0 1,0 -10,0z M400.28,1746a5,5 0 1,0 10,0a5,5 0 1,0 -10,0z M404.96,1743.8a5,5 0 1,0 10,0a5,5 0 1,0 -10,0z M410.1,1743.96a5,5 0 1,0 10,0a5,5 0 1,0 -10,0z M416.57,1745.4a5,5 0 1,0 10,0a5,5 0 1,0 -10,0z M421.92,1745.46a5,5 0 1,0 10,0a5,5 0 1,0 -10,0z M403.34,1748.41a5,5 0 1,0 10,0a5,5 0 1,0 -10,0z M408.42,1748.31a5,5 0 1,0 10,0a5,5 0 1,0 -10,0z M418.13,1748.71a5,5 0 1,0 10,0a5,5 0 1,0 -10,0z M423.67,1748.35a5,5 0 1,0 10,0a5,5 0 1,0 -10,0z M400.06,1754.6a5,5 0 1,0 10,0a5,5 0 1,0 -10,0z M404.69,1754.78a5,5 0 1,0 10,0a5,5 0 1,0 -10,0z M409.88,1754.98a5,5 0 1,0 10,0a5,5 0 1,0 -10,0z M414.43,1753.47a5,5 0 1,0 10,0a5,5 0 1,0 -10,0z M419.98,1755.1a5,5 0 1,0 10,0a5,5 0 1,0 -10,0z M426.95,1755.08a5,5 0 1,0 10,0a5,5 0 1,0 -10,0z M403.77,1760.23a5,5 0 1,0 10,0a5,5 0 1,0 -10,0z M408.77,1758.59a5,5 0 1,0 10,0a5,5 0 1,0 -10,0z M414.14,1757.99a5,5 0 1,0 10,0a5,5 0 1,0 -10,0z M419.25,1759.52a5,5 0 1,0 10,0a5,5 0 1,0 -10,0z M424.55,1759.83a5,5 0 1,0 10,0a5,5 0 1,0 -10,0z M427.68,1759.21a5,5 0 1,0 10,0a5,5 0 1,0 -10,0z M399.29,1761.9a5,5 0 1,0 10,0a5,5 0 1,0 -10,0z M404.3,1763.15a5,5 0 1,0 10,0a5,5 0 1,0 -10,0z M410.29,1762.57a5,5 0 1,0 10,0a5,5 0 1,0 -10,0z M415.41,1764.23a5,5 0 1,0 10,0a5,5 0 1,0 -10,0z M421.99,1764.78a5,5 0 1,0 10,0a5,5 0 1,0 -10,0z M425.37,1762.1a5,5 0 1,0 10,0a5,5 0 1,0 -10,0z M403.28,1768.26a5,5 0 1,0 10,0a5,5 0 1,0 -10,0z M407.25,1768.45a5,5 0 1,0 10,0a5,5 0 1,0 -10,0z M413.22,1768.29a5,5 0 1,0 10,0a5,5 0 1,0 -10,0z M417.46,1767.06a5,5 0 1,0 10,0a5,5 0 1,0 -10,0z M398.89,1770.98a5,5 0 1,0 10,0a5,5 0 1,0 -10,0z M405.02,1772.78a5,5 0 1,0 10,0a5,5 0 1,0 -10,0z M410.5,1771.02a5,5 0 1,0 10,0a5,5 0 1,0 -10,0z M416.02,1772.55a5,5 0 1,0 10,0a5,5 0 1,0 -10,0z M420.5,1772.32a5,5 0 1,0 10,0a5,5 0 1,0 -10,0z M425.62,1773.17a5,5 0 1,0 10,0a5,5 0 1,0 -10,0z M401.58,1775.69a5,5 0 1,0 10,0a5,5 0 1,0 -10,0z M408.1,1777.77a5,5 0 1,0 10,0a5,5 0 1,0 -10,0z M412.82,1776.13a5,5 0 1,0 10,0a5,5 0 1,0 -10,0z M417.89,1777.4a5,5 0 1,0 10,0a5,5 0 1,0 -10,0z M428.72,1777.7a5,5 0 1,0 10,0a5,5 0 1,0 -10,0z M404.89,1780.14a5,5 0 1,0 10,0a5,5 0 1,0 -10,0z M409.39,1780.1a5,5 0 1,0 10,0a5,5 0 1,0 -10,0z M415.56,1782.03a5,5 0 1,0 10,0a5,5 0 1,0 -10,0z M421.46,1780.08a5,5 0 1,0 10,0a5,5 0 1,0 -10,0z M426.39,1780.09a5,5 0 1,0 10,0a5,5 0 1,0 -10,0z M403.14,1786.58a5,5 0 1,0 10,0a5,5 0 1,0 -10,0z M406.94,1785.5a5,5 0 1,0 10,0a5,5 0 1,0 -10,0z M412.68,1784.73a5,5 0 1,0 10,0a5,5 0 1,0 -10,0z M418.37,1787.3a5,5 0 1,0 10,0a5,5 0 1,0 -10,0z M460.96,1589.68a5,5 0 1,0 10,0a5,5 0 1,0 -10,0z M476.67,1589.57a5,5 0 1,0 10,0a5,5 0 1,0 -10,0z M469.35,1595.47a5,5 0 1,0 10,0a5,5 0 1,0 -10,0z M456.82,1600.27a5,5 0 1,0 10,0a5,5 0 1,0 -10,0z M460.25,1599.1a5,5 0 1,0 10,0a5,5 0 1,0 -10,0z M464.11,1604.49a5,5 0 1,0 10,0a5,5 0 1,0 -10,0z M468.2,1604.33a5,5 0 1,0 10,0a5,5 0 1,0 -10,0z M479.92,1602.43a5,5 0 1,0 10,0a5,5 0 1,0 -10,0z M460.73,1608.95a5,5 0 1,0 10,0a5,5 0 1,0 -10,0z M454.72,1613.17a5,5 0 1,0 10,0a5,5 0 1,0 -10,0z M461.98,1627.76a5,5 0 1,0 10,0a5,5 0 1,0 -10,0z M471.09,1625.95a5,5 0 1,0 10,0a5,5 0 1,0 -10,0z M478.13,1624.78a5,5 0 1,0 10,0a5,5 0 1,0 -10,0z M452.68,1631.19a5,5 0 1,0 10,0a5,5 0 1,0 -10,0z M462.95,1630.58a5,5 0 1,0 10,0a5,5 0 1,0 -10,0z M478.66,1629.71a5,5 0 1,0 10,0a5,5 0 1,0 -10,0z M450.36,1635.94a5,5 0 1,0 10,0a5,5 0 1,0 -10,0z M460.64,1634.54a5,5 0 1,0 10,0a5,5 0 1,0 -10,0z M467.22,1634.64a5,5 0 1,0 10,0a5,5 0 1,0 -10,0z M459.73,1641.09a5,5 0 1,0 10,0a5,5 0 1,0 -10,0z M464.11,1641.23a5,5 0 1,0 10,0a5,5 0 1,0 -10,0z M473.32,1641.2a5,5 0 1,0 10,0a5,5 0 1,0 -10,0z M467.78,1644.79a5,5 0 1,0 10,0a5,5 0 1,0 -10,0z M470.63,1644.2a5,5 0 1,0 10,0a5,5 0 1,0 -10,0z M464.78,1644.43a5,5 0 1,0 10,0a5,5 0 1,0 -10,0z M471.69,1645.05a5,5 0 1,0 10,0a5,5 0 1,0 -10,0z M452.68,1648.41a5,5 0 1,0 10,0a5,5 0 1,0 -10,0z M463.77,1650.63a5,5 0 1,0 10,0a5,5 0 1,0 -10,0z M472.85,1650.22a5,5 0 1,0 10,0a5,5 0 1,0 -10,0z M478.55,1649.42a5,5 0 1,0 10,0a5,5 0 1,0 -10,0z M461.09,1653.78a5,5 0 1,0 10,0a5,5 0 1,0 -10,0z M471.58,1653.11a5,5 0 1,0 10,0a5,5 0 1,0 -10,0z M476.06,1652.95a5,5 0 1,0 10,0a5,5 0 1,0 -10,0z M452.15,1657.22a5,5 0 1,0 10,0a5,5 0 1,0 -10,0z M457.72,1659.26a5,5 0 1,0 10,0a5,5 0 1,0 -10,0z M463.45,1657.31a5,5 0 1,0 10,0a5,5 0 1,0 -10,0z M468.11,1660.07a5,5 0 1,0 10,0a5,5 0 1,0 -10,0z M483.51,1659.24a5,5 0 1,0 10,0a5,5 0 1,0 -10,0z M450.15,1662.96a5,5 0 1,0 10,0a5,5 0 1,0 -10,0z M456.38,1664.05a5,5 0 1,0 10,0a5,5 0 1,0 -10,0z M460.68,1662.43a5,5 0 1,0 10,0a5,5 0 1,0 -10,0z M465.7,1662.45a5,5 0 1,0 10,0a5,5 0 1,0 -10,0z M470.54,1663.63a5,5 0 1,0 10,0a5,5 0 1,0 -10,0z M475.28,1663.84a5,5 0 1,0 10,0a5,5 0 1,0 -10,0z M482.27,1663.3a5,5 0 1,0 10,0a5,5 0 1,0 -10,0z M458.58,1666.32a5,5 0 1,0 10,0a5,5 0 1,0 -10,0z M462.03,1668.19a5,5 0 1,0 10,0a5,5 0 1,0 -10,0z M473.17,1668.7a5,5 0 1,0 10,0a5,5 0 1,0 -10,0z M483.14,1666.52a5,5 0 1,0 10,0a5,5 0 1,0 -10,0z M449.78,1670.78a5,5 0 1,0 10,0a5,5 0 1,0 -10,0z M460.43,1672.62a5,5 0 1,0 10,0a5,5 0 1,0 -10,0z M475.6,1671.86a5,5 0 1,0 10,0a5,5 0 1,0 -10,0z M480.96,1672.78a5,5 0 1,0 10,0a5,5 0 1,0 -10,0z M472.99,1676.16a5,5 0 1,0 10,0a5,5 0 1,0 -10,0z M483.51,1676.7a5,5 0 1,0 10,0a5,5 0 1,0 -10,0z M466.24,1682.48a5,5 0 1,0 10,0a5,5 0 1,0 -10,0z M470.45,1681.19a5,5 0 1,0 10,0a5,5 0 1,0 -10,0z M476.51,1682.75a5,5 0 1,0 10,0a5,5 0 1,0 -10,0z M481.72,1682.27a5,5 0 1,0 10,0a5,5 0 1,0 -10,0z M453.67,1686.12a5,5 0 1,0 10,0a5,5 0 1,0 -10,0z M456.8,1684.9a5,5 0 1,0 10,0a5,5 0 1,0 -10,0z M474.43,1685.27a5,5 0 1,0 10,0a5,5 0 1,0 -10,0z M477.7,1687.23a5,5 0 1,0 10,0a5,5 0 1,0 -10,0z M484.77,1685.85a5,5 0 1,0 10,0a5,5 0 1,0 -10,0z M461.38,1691.81a5,5 0 1,0 10,0a5,5 0 1,0 -10,0z M476.78,1689.56a5,5 0 1,0 10,0a5,5 0 1,0 -10,0z M452.78,1695.82a5,5 0 1,0 10,0a5,5 0 1,0 -10,0z M457.91,1693.41a5,5 0 1,0 10,0a5,5 0 1,0 -10,0z M462.23,1696.32a5,5 0 1,0 10,0a5,5 0 1,0 -10,0z M479.01,1695.52a5,5 0 1,0 10,0a5,5 0 1,0 -10,0z M484.02,1695.74a5,5 0 1,0 10,0a5,5 0 1,0 -10,0z M449.28,1699.19a5,5 0 1,0 10,0a5,5 0 1,0 -10,0z M454.93,1699.51a5,5 0 1,0 10,0a5,5 0 1,0 -10,0z M460.45,1698.53a5,5 0 1,0 10,0a5,5 0 1,0 -10,0z M471.14,1697.81a5,5 0 1,0 10,0a5,5 0 1,0 -10,0z M482.3,1699.61a5,5 0 1,0 10,0a5,5 0 1,0 -10,0z M452.39,1704.21a5,5 0 1,0 10,0a5,5 0 1,0 -10,0z M474.59,1704.89a5,5 0 1,0 10,0a5,5 0 1,0 -10,0z M483.64,1704.02a5,5 0 1,0 10,0a5,5 0 1,0 -10,0z M455.26,1708.12a5,5 0 1,0 10,0a5,5 0 1,0 -10,0z M464.53,1709.06a5,5 0 1,0 10,0a5,5 0 1,0 -10,0z M458.02,1711.48a5,5 0 1,0 10,0a5,5 0 1,0 -10,0z M462.87,1712.87a5,5 0 1,0 10,0a5,5 0 1,0 -10,0z M467.12,1713.48a5,5 0 1,0 10,0a5,5 0 1,0 -10,0z M472.77,1712.24a5,5 0 1,0 10,0a5,5 0 1,0 -10,0z M477.97,1711.48a5,5 0 1,0 10,0a5,5 0 1,0 -10,0z M466.33,1716.49a5,5 0 1,0 10,0a5,5 0 1,0 -10,0z M453.3,1720.7a5,5 0 1,0 10,0a5,5 0 1,0 -10,0z M458.88,1720.31a5,5 0 1,0 10,0a5,5 0 1,0 -10,0z M462.52,1721.35a5,5 0 1,0 10,0a5,5 0 1,0 -10,0z M469.15,1722.92a5,5 0 1,0 10,0a5,5 0 1,0 -10,0z M473.06,1722.18a5,5 0 1,0 10,0a5,5 0 1,0 -10,0z M477.47,1723.18a5,5 0 1,0 10,0a5,5 0 1,0 -10,0z M483.8,1723.3a5,5 0 1,0 10,0a5,5 0 1,0 -10,0z M453.5,1724.35a5,5 0 1,0 10,0a5,5 0 1,0 -10,0z M470.61,1724.53a5,5 0 1,0 10,0a5,5 0 1,0 -10,0z M474.21,1726.22a5,5 0 1,0 10,0a5,5 0 1,0 -10,0z M451.92,1728.54a5,5 0 1,0 10,0a5,5 0 1,0 -10,0z M461.05,1730.25a5,5 0 1,0 10,0a5,5 0 1,0 -10,0z M468.16,1730.71a5,5 0 1,0 10,0a5,5 0 1,0 -10,0z M471.52,1730.15a5,5 0 1,0 10,0a5,5 0 1,0 -10,0z M481.79,1728.64a5,5 0 1,0 10,0a5,5 0 1,0 -10,0z M449.51,1733.08a5,5 0 1,0 10,0a5,5 0 1,0 -10,0z M453.57,1734.57a5,5 0 1,0 10,0a5,5 0 1,0 -10,0z M459.09,1734.57a5,5 0 1,0 10,0a5,5 0 1,0 -10,0z M469.15,1733.41a5,5 0 1,0 10,0a5,5 0 1,0 -10,0z M479.66,1734.5a5,5 0 1,0 10,0a5,5 0 1,0 -10,0z M452.76,1738.38a5,5 0 1,0 10,0a5,5 0 1,0 -10,0z M456.87,1737.12a5,5 0 1,0 10,0a5,5 0 1,0 -10,0z M461.48,1737.77a5,5 0 1,0 10,0a5,5 0 1,0 -10,0z M466.21,1737.88a5,5 0 1,0 10,0a5,5 0 1,0 -10,0z M471.79,1737.87a5,5 0 1,0 10,0a5,5 0 1,0 -10,0z M476.85,1739.84a5,5 0 1,0 10,0a5,5 0 1,0 -10,0z M448.91,1743.9a5,5 0 1,0 10,0a5,5 0 1,0 -10,0z M455.23,1743.1a5,5 0 1,0 10,0a5,5 0 1,0 -10,0z M459.53,1743.56a5,5 0 1,0 10,0a5,5 0 1,0 -10,0z M464.98,1744a5,5 0 1,0 10,0a5,5 0 1,0 -10,0z M469.81,1744.2a5,5 0 1,0 10,0a5,5 0 1,0 -10,0z M475.05,1744.54a5,5 0 1,0 10,0a5,5 0 1,0 -10,0z M480.87,1742.02a5,5 0 1,0 10,0a5,5 0 1,0 -10,0z M450.96,1747.43a5,5 0 1,0 10,0a5,5 0 1,0 -10,0z M457.49,1748.55a5,5 0 1,0 10,0a5,5 0 1,0 -10,0z M461.97,1746.73a5,5 0 1,0 10,0a5,5 0 1,0 -10,0z M467.2,1746.13a5,5 0 1,0 10,0a5,5 0 1,0 -10,0z M472.92,1747.85a5,5 0 1,0 10,0a5,5 0 1,0 -10,0z M481.96,1746.08a5,5 0 1,0 10,0a5,5 0 1,0 -10,0z M448.84,1751.96a5,5 0 1,0 10,0a5,5 0 1,0 -10,0z M454.92,1750.78a5,5 0 1,0 10,0a5,5 0 1,0 -10,0z M464.7,1753.08a5,5 0 1,0 10,0a5,5 0 1,0 -10,0z M468.95,1751.54a5,5 0 1,0 10,0a5,5 0 1,0 -10,0z M474.55,1752.53a5,5 0 1,0 10,0a5,5 0 1,0 -10,0z M479.64,1752.43a5,5 0 1,0 10,0a5,5 0 1,0 -10,0z M452.37,1755.62a5,5 0 1,0 10,0a5,5 0 1,0 -10,0z M455.98,1757.28a5,5 0 1,0 10,0a5,5 0 1,0 -10,0z M466.15,1756.38a5,5 0 1,0 10,0a5,5 0 1,0 -10,0z M471.72,1758.17a5,5 0 1,0 10,0a5,5 0 1,0 -10,0z M477.57,1757.5a5,5 0 1,0 10,0a5,5 0 1,0 -10,0z M448.89,1761.98a5,5 0 1,0 10,0a5,5 0 1,0 -10,0z M453.58,1762.44a5,5 0 1,0 10,0a5,5 0 1,0 -10,0z M459.14,1760.55a5,5 0 1,0 10,0a5,5 0 1,0 -10,0z M463.58,1759.7a5,5 0 1,0 10,0a5,5 0 1,0 -10,0z M475.56,1760.33a5,5 0 1,0 10,0a5,5 0 1,0 -10,0z M480.32,1760.37a5,5 0 1,0 10,0a5,5 0 1,0 -10,0z M452.64,1765.28a5,5 0 1,0 10,0a5,5 0 1,0 -10,0z M457.95,1766.07a5,5 0 1,0 10,0a5,5 0 1,0 -10,0z M461.77,1766.2a5,5 0 1,0 10,0a5,5 0 1,0 -10,0z M466.82,1766.34a5,5 0 1,0 10,0a5,5 0 1,0 -10,0z M478.53,1765.6a5,5 0 1,0 10,0a5,5 0 1,0 -10,0z M483.62,1765.34a5,5 0 1,0 10,0a5,5 0 1,0 -10,0z M448.32,1769.75a5,5 0 1,0 10,0a5,5 0 1,0 -10,0z M454.32,1769.16a5,5 0 1,0 10,0a5,5 0 1,0 -10,0z M458.71,1770.14a5,5 0 1,0 10,0a5,5 0 1,0 -10,0z M464.47,1771.82a5,5 0 1,0 10,0a5,5 0 1,0 -10,0z M470.67,1769.29a5,5 0 1,0 10,0a5,5 0 1,0 -10,0z M473.97,1770.85a5,5 0 1,0 10,0a5,5 0 1,0 -10,0z M479.66,1768.7a5,5 0 1,0 10,0a5,5 0 1,0 -10,0z M451.03,1774.42a5,5 0 1,0 10,0a5,5 0 1,0 -10,0z M461.44,1774.32a5,5 0 1,0 10,0a5,5 0 1,0 -10,0z M468.25,1774.32a5,5 0 1,0 10,0a5,5 0 1,0 -10,0z M472.94,1776.07a5,5 0 1,0 10,0a5,5 0 1,0 -10,0z M477.17,1774.39a5,5 0 1,0 10,0a5,5 0 1,0 -10,0z M483.72,1774.2a5,5 0 1,0 10,0a5,5 0 1,0 -10,0z M449.05,1777.86a5,5 0 1,0 10,0a5,5 0 1,0 -10,0z M453.57,1777.82a5,5 0 1,0 10,0a5,5 0 1,0 -10,0z M459.63,1777.79a5,5 0 1,0 10,0a5,5 0 1,0 -10,0z M464.42,1779.43a5,5 0 1,0 10,0a5,5 0 1,0 -10,0z M470.3,1778.52a5,5 0 1,0 10,0a5,5 0 1,0 -10,0z M475.4,1778.16a5,5 0 1,0 10,0a5,5 0 1,0 -10,0z M479.67,1779.97a5,5 0 1,0 10,0a5,5 0 1,0 -10,0z M451.33,1784.98a5,5 0 1,0 10,0a5,5 0 1,0 -10,0z M456.3,1783.32a5,5 0 1,0 10,0a5,5 0 1,0 -10,0z M460.9,1782.29a5,5 0 1,0 10,0a5,5 0 1,0 -10,0z M467.36,1784.8a5,5 0 1,0 10,0a5,5 0 1,0 -10,0z M478.01,1785.15a5,5 0 1,0 10,0a5,5 0 1,0 -10,0z M483.25,1784.35a5,5 0 1,0 10,0a5,5 0 1,0 -10,0z M459.72,1787.02a5,5 0 1,0 10,0a5,5 0 1,0 -10,0z M464.34,1786.93a5,5 0 1,0 10,0a5,5 0 1,0 -10,0z M469.39,1788.33a5,5 0 1,0 10,0a5,5 0 1,0 -10,0z M474.18,1788.02a5,5 0 1,0 10,0a5,5 0 1,0 -10,0z M479.4,1788.86a5,5 0 1,0 10,0a5,5 0 1,0 -10,0z" stroke="none" stroke-width="0" fill="#f50000"/>
<text transform="translate(177.7,1523.1) scale(0.880,1)" font-size="17.6" font-weight="bold" text-anchor="start" fill="#000">MATN2</text>
<text transform="translate(267.1,1527.2) scale(0.880,1)" font-size="17.6" font-weight="bold" text-anchor="start" fill="#000">SEZ6L</text>
<text transform="translate(159.1,1543) scale(0.880,1)" font-size="17.6" font-weight="bold" text-anchor="start" fill="#000">BTBD17</text>
<text transform="translate(333,1552.5) scale(0.880,1)" font-size="17.6" font-weight="bold" text-anchor="start" fill="#000">SELENBP1</text>
<text transform="translate(258.6,1564.6) scale(0.880,1)" font-size="17.6" font-weight="bold" text-anchor="start" fill="#000">LCN1</text>
<text transform="translate(195.5,1575.7) scale(0.880,1)" font-size="17.6" font-weight="bold" text-anchor="start" fill="#000">FSTL1</text>
<text transform="translate(286.9,1575.7) scale(0.880,1)" font-size="17.6" font-weight="bold" text-anchor="start" fill="#000">SEMA7A</text>
<text transform="translate(139.3,1605) scale(0.880,1)" font-size="17.6" font-weight="bold" text-anchor="start" fill="#000">ACTL8</text>
<text transform="translate(202,1623.2) scale(0.880,1)" font-size="17.6" font-weight="bold" text-anchor="start" fill="#000">CRABP2</text>
<text transform="translate(277.8,1620.2) scale(0.880,1)" font-size="17.6" font-weight="bold" text-anchor="start" fill="#000">TUBA4A</text>
<text transform="translate(196.3,1640) scale(0.880,1)" font-size="17.6" font-weight="bold" text-anchor="start" fill="#000">ACP5</text>
<text transform="translate(236.7,1667.1) scale(0.880,1)" font-size="17.6" font-weight="bold" text-anchor="start" fill="#000">CDH7</text>
<text transform="translate(303.1,1669.1) scale(0.880,1)" font-size="17.6" font-weight="bold" text-anchor="start" fill="#000">NRP2</text>
<text transform="translate(135.7,1688.5) scale(0.880,1)" font-size="17.6" font-weight="bold" text-anchor="start" fill="#000">SPARCL1</text>
<text transform="translate(200,1709.5) scale(0.880,1)" font-size="17.6" font-weight="bold" text-anchor="start" fill="#000">SUMO3;SUMO4</text>
<text transform="translate(231.3,1758.4) scale(0.880,1)" font-size="17.6" font-weight="bold" text-anchor="start" fill="#000">NEFH</text>
<text transform="translate(214.1,1778.3) scale(0.880,1)" font-size="17.6" font-weight="bold" text-anchor="start" fill="#000">CNTN2</text>
<text transform="translate(433.1,1514.2) scale(0.880,1)" font-size="17.6" font-weight="bold" text-anchor="start" fill="#000">GNPTG</text>
<text transform="translate(606.1,1410.3) scale(0.880,1)" font-size="17.6" font-weight="bold" text-anchor="start" fill="#000">QPCT</text>
<text transform="translate(545.4,1473) scale(0.880,1)" font-size="17.6" font-weight="bold" text-anchor="start" fill="#000">PCOLCE</text>
<text transform="translate(649.9,1472) scale(0.880,1)" font-size="17.6" font-weight="bold" text-anchor="start" fill="#000">SCG5</text>
<text transform="translate(574.1,1498.7) scale(0.880,1)" font-size="17.6" font-weight="bold" text-anchor="start" fill="#000">ARHGAP36</text>
<text transform="translate(531.3,1523.5) scale(0.880,1)" font-size="17.6" font-weight="bold" text-anchor="start" fill="#000">ENPP2</text>
<text transform="translate(729.5,1514.4) scale(0.880,1)" font-size="17.6" font-weight="bold" text-anchor="start" fill="#000">EMILIN1</text>
<text transform="translate(608.1,1529.8) scale(0.880,1)" font-size="17.6" font-weight="bold" text-anchor="start" fill="#000">CRISPLD1</text>
<text transform="translate(557.9,1559.9) scale(0.880,1)" font-size="17.6" font-weight="bold" text-anchor="start" fill="#000">ICAM2</text>
<text transform="translate(711.6,1542.3) scale(0.880,1)" font-size="17.6" font-weight="bold" text-anchor="start" fill="#000">FRAS1</text>
<text transform="translate(628.5,1593.4) scale(0.880,1)" font-size="17.6" font-weight="bold" text-anchor="start" fill="#000">TRIM28</text>
<text transform="translate(701.7,1579.3) scale(0.880,1)" font-size="17.6" font-weight="bold" text-anchor="start" fill="#000">IGFBP7</text>
<text transform="translate(620.6,1613.8) scale(0.880,1)" font-size="17.6" font-weight="bold" text-anchor="start" fill="#000">CRH</text>
<text transform="translate(581,1629.9) scale(0.880,1)" font-size="17.6" font-weight="bold" text-anchor="start" fill="#000">ADAMTS19</text>
<text transform="translate(543.3,1650.6) scale(0.880,1)" font-size="17.6" font-weight="bold" text-anchor="start" fill="#000">DKK1</text>
<text transform="translate(612.9,1652.5) scale(0.880,1)" font-size="17.6" font-weight="bold" text-anchor="start" fill="#000">CDKN2A</text>
<text transform="translate(702.1,1652.5) scale(0.880,1)" font-size="17.6" font-weight="bold" text-anchor="start" fill="#000">PRSS12</text>
<text transform="translate(643.3,1669.5) scale(0.880,1)" font-size="17.6" font-weight="bold" text-anchor="start" fill="#000">HGF</text>
<text transform="translate(584.8,1682.3) scale(0.880,1)" font-size="17.6" font-weight="bold" text-anchor="start" fill="#000">EGFL7</text>
<text transform="translate(564,1700.8) scale(0.880,1)" font-size="17.6" font-weight="bold" text-anchor="start" fill="#000">TGFB1</text>
<text transform="translate(589.5,1714.8) scale(0.880,1)" font-size="17.6" font-weight="bold" text-anchor="start" fill="#000">EFNB2</text>
<text transform="translate(592.3,1726.1) scale(0.880,1)" font-size="17.6" font-weight="bold" text-anchor="start" fill="#000">GFRA2</text>
<text transform="translate(594.2,1756.3) scale(0.880,1)" font-size="17.6" font-weight="bold" text-anchor="start" fill="#000">EDIL3</text>
<text transform="translate(585.7,1774.4) scale(0.880,1)" font-size="17.6" font-weight="bold" text-anchor="start" fill="#000">VCAN</text>
<defs>
<radialGradient id="gd" cx="0.5" cy="0.5" r="0.5"><stop offset="0" stop-color="#a8a8a8"/><stop offset="0.28" stop-color="#505050"/><stop offset="0.5" stop-color="#080808"/><stop offset="1" stop-color="#000"/></radialGradient>
<radialGradient id="gm" cx="0.5" cy="0.5" r="0.5"><stop offset="0" stop-color="#eeeeee"/><stop offset="0.3" stop-color="#b8b8b8"/><stop offset="0.62" stop-color="#6a6a6a"/><stop offset="1" stop-color="#4a4a4a"/></radialGradient>
<radialGradient id="gl" cx="0.5" cy="0.5" r="0.5"><stop offset="0" stop-color="#ffffff"/><stop offset="0.5" stop-color="#f2f3f5"/><stop offset="0.8" stop-color="#b0b0b0"/><stop offset="1" stop-color="#8c8c8c"/></radialGradient>
</defs>
<text transform="translate(854.5,1301.2)" font-size="50" font-weight="bold" text-anchor="start" fill="#000">d</text>
<text transform="translate(1229,1282.6) rotate(1.8)" font-size="26.2" font-weight="bold" text-anchor="start" fill="#000">Secretome</text>
<text transform="translate(1219,1314.2) rotate(2)" font-size="26.2" font-weight="bold" text-anchor="start" fill="#000">Log2(ΔLFQ)</text>
<text transform="translate(1451.4,1728.8) rotate(-87)" font-size="26.2" font-weight="bold" text-anchor="start" fill="#000">cell transcriptome</text>
<text transform="translate(1485.8,1675.6) rotate(-87)" font-size="26.2" font-weight="bold" text-anchor="start" fill="#000">Log2(FC)</text>
<text transform="translate(1097.6,1900.3) rotate(-10.95)" font-size="26.2" font-weight="bold" text-anchor="start" fill="#000">tumor transcriptome</text>
<text transform="translate(1174.6,1918.6) rotate(-10.3)" font-size="26.2" font-weight="bold" text-anchor="start" fill="#000">Log2(FC)</text>
<line x1="1080" y1="1394.3" x2="1080" y2="1774.7" stroke="#cfcfcf" stroke-width="1.2"/>
<line x1="924.5" y1="1607.2" x2="1261.2" y2="1578.8" stroke="#cfcfcf" stroke-width="1.2"/>
<line x1="997.4" y1="1571.2" x2="1181.1" y2="1623.9" stroke="#cfcfcf" stroke-width="1.2"/>
<line x1="848.9" y1="1389.8" x2="1168" y2="1385.2" stroke="#2a2a2a" stroke-width="1.25"/>
<line x1="1168" y1="1385.2" x2="1380" y2="1395.5" stroke="#2a2a2a" stroke-width="1.25"/>
<line x1="1380" y1="1395.5" x2="1011.4" y2="1402.4" stroke="#2a2a2a" stroke-width="1.25"/>
<line x1="1011.4" y1="1402.4" x2="848.9" y2="1389.8" stroke="#2a2a2a" stroke-width="1.25"/>
<line x1="857" y1="1752.1" x2="1166.6" y2="1714" stroke="#2a2a2a" stroke-width="1.25"/>
<line x1="1166.6" y1="1714" x2="1370.4" y2="1791.8" stroke="#2a2a2a" stroke-width="1.25"/>
<line x1="1370.4" y1="1791.8" x2="1014.6" y2="1850.3" stroke="#2a2a2a" stroke-width="1.25"/>
<line x1="1014.6" y1="1850.3" x2="857" y2="1752.1" stroke="#2a2a2a" stroke-width="1.25"/>
<line x1="848.9" y1="1389.8" x2="857" y2="1752.1" stroke="#2a2a2a" stroke-width="1.25"/>
<line x1="1168" y1="1385.2" x2="1166.6" y2="1714" stroke="#2a2a2a" stroke-width="1.25"/>
<line x1="1380" y1="1395.5" x2="1370.4" y2="1791.8" stroke="#2a2a2a" stroke-width="1.25"/>
<line x1="1011.4" y1="1402.4" x2="1014.6" y2="1850.3" stroke="#2a2a2a" stroke-width="1.25"/>
<line x1="1173.6" y1="1363.7" x2="1173.3" y2="1384.9" stroke="#2a2a2a" stroke-width="1.1"/>
<text transform="translate(1173.2,1346.9)" font-size="13.4" text-anchor="middle" fill="#333">-10</text>
<line x1="1216.5" y1="1364.6" x2="1216.2" y2="1387.3" stroke="#2a2a2a" stroke-width="1.1"/>
<text transform="translate(1217.2,1346.9)" font-size="13.4" text-anchor="middle" fill="#333">-5</text>
<line x1="1264.6" y1="1365.4" x2="1264.3" y2="1389.8" stroke="#2a2a2a" stroke-width="1.1"/>
<text transform="translate(1265,1346.9)" font-size="13.4" text-anchor="middle" fill="#333">0</text>
<line x1="1316.4" y1="1366.2" x2="1316.1" y2="1391.5" stroke="#2a2a2a" stroke-width="1.1"/>
<text transform="translate(1317,1346.9)" font-size="13.4" text-anchor="middle" fill="#333">5</text>
<line x1="1374" y1="1367.9" x2="1373.7" y2="1394.6" stroke="#2a2a2a" stroke-width="1.1"/>
<text transform="translate(1374,1345.6)" font-size="13.4" text-anchor="middle" fill="#333">10</text>
<line x1="1377.9" y1="1479.4" x2="1394.8" y2="1482.4" stroke="#2a2a2a" stroke-width="1.1"/>
<text transform="translate(1415.8,1490.3)" font-size="13.4" text-anchor="middle" fill="#333">5</text>
<line x1="1374.8" y1="1604.8" x2="1391.8" y2="1609.1" stroke="#2a2a2a" stroke-width="1.1"/>
<text transform="translate(1412.2,1618.8)" font-size="13.4" text-anchor="middle" fill="#333">0</text>
<line x1="1371.8" y1="1726.7" x2="1388.2" y2="1732.7" stroke="#2a2a2a" stroke-width="1.1"/>
<text transform="translate(1410.3,1745.5)" font-size="13.4" text-anchor="middle" fill="#333">-5</text>
<line x1="1060.5" y1="1843.1" x2="1071.7" y2="1852.8" stroke="#2a2a2a" stroke-width="1.1"/>
<text transform="translate(1087.6,1866.9)" font-size="13.4" text-anchor="middle" fill="#333">-5</text>
<line x1="1180" y1="1823.5" x2="1194.2" y2="1830.5" stroke="#2a2a2a" stroke-width="1.1"/>
<text transform="translate(1212.9,1844.7)" font-size="13.4" text-anchor="middle" fill="#333">0</text>
<line x1="1294.3" y1="1804.7" x2="1309.4" y2="1811.3" stroke="#2a2a2a" stroke-width="1.1"/>
<text transform="translate(1329.2,1824.5)" font-size="13.4" text-anchor="middle" fill="#333">5</text>
<circle cx="1087.5" cy="1588.5" r="4.4" fill="url(#gl)"/>
<circle cx="1105.8" cy="1588.5" r="4.4" fill="url(#gl)"/>
<circle cx="1111.5" cy="1589.6" r="4.4" fill="url(#gl)"/>
<circle cx="1108.1" cy="1594.2" r="4.4" fill="url(#gl)"/>
<circle cx="1115" cy="1595.4" r="4.4" fill="url(#gl)"/>
<circle cx="1124.1" cy="1595.4" r="4.4" fill="url(#gl)"/>
<circle cx="1144.3" cy="1593.1" r="4.4" fill="url(#gl)"/>
<circle cx="1066.9" cy="1598.8" r="4.4" fill="url(#gl)"/>
<circle cx="1172.3" cy="1598.8" r="4.4" fill="url(#gl)"/>
<circle cx="983.2" cy="1599.1" r="4.4" fill="url(#gl)"/>
<circle cx="1001.5" cy="1593.2" r="4.4" fill="url(#gl)"/>
<circle cx="1004.9" cy="1599.1" r="4.4" fill="url(#gl)"/>
<circle cx="1010.7" cy="1598.4" r="4.4" fill="url(#gl)"/>
<circle cx="1016.4" cy="1591.5" r="4.4" fill="url(#gl)"/>
<circle cx="1022.1" cy="1589.3" r="4.4" fill="url(#gl)"/>
<circle cx="1023.3" cy="1596.8" r="4.4" fill="url(#gl)"/>
<circle cx="1030.1" cy="1590.4" r="4.4" fill="url(#gl)"/>
<circle cx="1037" cy="1593.8" r="4.4" fill="url(#gl)"/>
<circle cx="1040.5" cy="1600.7" r="4.4" fill="url(#gl)"/>
<circle cx="1046.2" cy="1594.5" r="4.4" fill="url(#gl)"/>
<circle cx="1050.8" cy="1595" r="4.4" fill="url(#gl)"/>
<circle cx="1140.1" cy="1601.4" r="4.4" fill="url(#gl)"/>
<circle cx="1027" cy="1594" r="4.4" fill="url(#gl)"/>
<circle cx="1034" cy="1591" r="4.4" fill="url(#gl)"/>
<circle cx="1043" cy="1592" r="4.4" fill="url(#gl)"/>
<circle cx="1127.6" cy="1428.6" r="4.4" fill="url(#gm)"/>
<circle cx="1108.1" cy="1477.4" r="4.4" fill="url(#gm)"/>
<circle cx="1124.6" cy="1497.3" r="4.4" fill="url(#gm)"/>
<circle cx="1142" cy="1509.9" r="4.4" fill="url(#gm)"/>
<circle cx="1126.4" cy="1519.1" r="4.4" fill="url(#gm)"/>
<circle cx="1117.7" cy="1525.9" r="4.4" fill="url(#gm)"/>
<circle cx="1137.4" cy="1525" r="4.4" fill="url(#gm)"/>
<circle cx="1117.3" cy="1533" r="4.4" fill="url(#gm)"/>
<circle cx="1115" cy="1539.9" r="4.4" fill="url(#gm)"/>
<circle cx="1128.7" cy="1538.1" r="4.4" fill="url(#gm)"/>
<circle cx="1121.9" cy="1545" r="4.4" fill="url(#gm)"/>
<circle cx="1107" cy="1545" r="4.4" fill="url(#gm)"/>
<circle cx="1076.5" cy="1550.7" r="4.4" fill="url(#gm)"/>
<circle cx="1074.9" cy="1574.7" r="4.4" fill="url(#gm)"/>
<circle cx="1041.6" cy="1643.1" r="4.4" fill="url(#gm)"/>
<circle cx="1051.9" cy="1643.1" r="4.4" fill="url(#gm)"/>
<circle cx="1041.6" cy="1675.2" r="4.4" fill="url(#gm)"/>
<circle cx="1046.2" cy="1706.1" r="4.4" fill="url(#gm)"/>
<circle cx="1098.9" cy="1550.7" r="4.4" fill="url(#gm)"/>
<circle cx="1109.3" cy="1551.4" r="4.4" fill="url(#gm)"/>
<circle cx="1119.1" cy="1556" r="4.4" fill="url(#gm)"/>
<circle cx="1088.6" cy="1557.1" r="4.4" fill="url(#gm)"/>
<circle cx="1096.7" cy="1558.2" r="4.4" fill="url(#gm)"/>
<circle cx="1104.7" cy="1561" r="4.4" fill="url(#gm)"/>
<circle cx="1109.3" cy="1562.1" r="4.4" fill="url(#gm)"/>
<circle cx="1092.1" cy="1564.4" r="4.4" fill="url(#gm)"/>
<circle cx="1100.1" cy="1563.3" r="4.4" fill="url(#gm)"/>
<circle cx="1086.3" cy="1570.1" r="4.4" fill="url(#gm)"/>
<circle cx="1094.4" cy="1570.1" r="4.4" fill="url(#gm)"/>
<circle cx="1104.7" cy="1570.1" r="4.4" fill="url(#gm)"/>
<circle cx="1112.7" cy="1570.1" r="4.4" fill="url(#gm)"/>
<circle cx="1118.4" cy="1570.1" r="4.4" fill="url(#gm)"/>
<circle cx="1090.5" cy="1552.5" r="4.4" fill="url(#gm)"/>
<circle cx="1113.5" cy="1546" r="4.4" fill="url(#gm)"/>
<circle cx="1102" cy="1554.5" r="4.4" fill="url(#gm)"/>
<circle cx="1123" cy="1560" r="4.4" fill="url(#gm)"/>
<circle cx="1052" cy="1616" r="4.4" fill="url(#gm)"/>
<circle cx="1058" cy="1614" r="4.4" fill="url(#gm)"/>
<circle cx="1064" cy="1615" r="4.4" fill="url(#gm)"/>
<circle cx="1070" cy="1617" r="4.4" fill="url(#gm)"/>
<circle cx="1055" cy="1622" r="4.4" fill="url(#gm)"/>
<circle cx="1061" cy="1621" r="4.4" fill="url(#gm)"/>
<circle cx="1067" cy="1623" r="4.4" fill="url(#gm)"/>
<circle cx="1073" cy="1620" r="4.4" fill="url(#gm)"/>
<circle cx="1050" cy="1628" r="4.4" fill="url(#gm)"/>
<circle cx="1057" cy="1628" r="4.4" fill="url(#gm)"/>
<circle cx="1063" cy="1629" r="4.4" fill="url(#gm)"/>
<circle cx="1069" cy="1631" r="4.4" fill="url(#gm)"/>
<circle cx="1053" cy="1634" r="4.4" fill="url(#gm)"/>
<circle cx="1060" cy="1636" r="4.4" fill="url(#gm)"/>
<circle cx="1066" cy="1638" r="4.4" fill="url(#gm)"/>
<circle cx="1264.6" cy="1400.2" r="4.4" fill="url(#gd)"/>
<circle cx="1318.9" cy="1398.8" r="4.4" fill="url(#gd)"/>
<circle cx="1294.1" cy="1435.9" r="4.4" fill="url(#gd)"/>
<circle cx="1316.1" cy="1450.6" r="4.4" fill="url(#gd)"/>
<circle cx="1241" cy="1442.3" r="4.4" fill="url(#gd)"/>
<circle cx="1183.9" cy="1456.7" r="4.4" fill="url(#gd)"/>
<circle cx="1216.9" cy="1458.6" r="4.4" fill="url(#gd)"/>
<circle cx="1224.5" cy="1456.3" r="4.4" fill="url(#gd)"/>
<circle cx="1202" cy="1471" r="4.4" fill="url(#gd)"/>
<circle cx="1199.3" cy="1479" r="4.4" fill="url(#gd)"/>
<circle cx="1188.3" cy="1480.1" r="4.4" fill="url(#gd)"/>
<circle cx="1180.7" cy="1484.2" r="4.4" fill="url(#gd)"/>
<circle cx="1178" cy="1488.1" r="4.4" fill="url(#gd)"/>
<circle cx="1183.7" cy="1487.2" r="4.4" fill="url(#gd)"/>
<circle cx="1259.8" cy="1477.4" r="4.4" fill="url(#gd)"/>
<circle cx="1258.6" cy="1489.5" r="4.4" fill="url(#gd)"/>
<circle cx="1144.1" cy="1484.2" r="4.4" fill="url(#gd)"/>
<circle cx="1142.9" cy="1496.2" r="4.4" fill="url(#gd)"/>
<circle cx="1160.3" cy="1495.2" r="4.4" fill="url(#gd)"/>
<circle cx="1155.8" cy="1503.3" r="4.4" fill="url(#gd)"/>
<circle cx="1156.9" cy="1510.6" r="4.4" fill="url(#gd)"/>
<circle cx="1207.8" cy="1502.1" r="4.4" fill="url(#gd)"/>
<circle cx="1238.2" cy="1496.8" r="4.4" fill="url(#gd)"/>
<circle cx="1183.7" cy="1508.3" r="4.4" fill="url(#gd)"/>
<circle cx="1167.7" cy="1517.9" r="4.4" fill="url(#gd)"/>
<circle cx="1196.5" cy="1518.6" r="4.4" fill="url(#gd)"/>
<circle cx="1175" cy="1526.2" r="4.4" fill="url(#gd)"/>
<circle cx="1234.1" cy="1527.3" r="4.4" fill="url(#gd)"/>
<circle cx="1234.1" cy="1530.1" r="4.4" fill="url(#gd)"/>
<circle cx="1256.6" cy="1525.5" r="4.4" fill="url(#gd)"/>
<circle cx="1196.3" cy="1531.2" r="4.4" fill="url(#gd)"/>
<circle cx="1199.3" cy="1533" r="4.4" fill="url(#gd)"/>
<circle cx="1183" cy="1538.5" r="4.4" fill="url(#gd)"/>
<circle cx="1176.4" cy="1543.8" r="4.4" fill="url(#gd)"/>
<circle cx="1179.6" cy="1549.1" r="4.4" fill="url(#gd)"/>
<circle cx="1163.8" cy="1550" r="4.4" fill="url(#gd)"/>
<circle cx="1156.2" cy="1554.6" r="4.4" fill="url(#gd)"/>
<circle cx="1127.6" cy="1530.1" r="4.4" fill="url(#gd)"/>
<circle cx="1132.9" cy="1533.5" r="4.4" fill="url(#gd)"/>
<circle cx="1140.2" cy="1536.9" r="4.4" fill="url(#gd)"/>
<circle cx="1141.3" cy="1544.5" r="4.4" fill="url(#gd)"/>
<circle cx="1131.5" cy="1549.1" r="4.4" fill="url(#gd)"/>
<circle cx="1128.7" cy="1556.4" r="4.4" fill="url(#gd)"/>
<circle cx="1136.7" cy="1554.1" r="4.4" fill="url(#gd)"/>
<circle cx="1143.6" cy="1554.1" r="4.4" fill="url(#gd)"/>
<circle cx="1144.3" cy="1559.8" r="4.4" fill="url(#gd)"/>
<circle cx="1136.7" cy="1566" r="4.4" fill="url(#gd)"/>
<circle cx="1128.7" cy="1563.3" r="4.4" fill="url(#gd)"/>
<circle cx="1118.4" cy="1571.3" r="4.4" fill="url(#gd)"/>
<circle cx="1124.1" cy="1567.9" r="4.4" fill="url(#gd)"/>
<circle cx="1129.8" cy="1628.7" r="4.4" fill="url(#gd)"/>
<circle cx="1104.6" cy="1643.1" r="4.4" fill="url(#gd)"/>
<circle cx="1076.4" cy="1651.8" r="4.4" fill="url(#gd)"/>
<circle cx="1036.6" cy="1556.7" r="4.4" fill="url(#gd)"/>
<circle cx="1052.6" cy="1573.2" r="4.4" fill="url(#gd)"/>
<circle cx="982" cy="1616.7" r="4.4" fill="url(#gd)"/>
<circle cx="992.3" cy="1625.5" r="4.4" fill="url(#gd)"/>
<circle cx="961.4" cy="1630.5" r="4.4" fill="url(#gd)"/>
<circle cx="964.9" cy="1633.9" r="4.4" fill="url(#gd)"/>
<circle cx="972.4" cy="1633.2" r="4.4" fill="url(#gd)"/>
<circle cx="969.4" cy="1642" r="4.4" fill="url(#gd)"/>
<circle cx="996.9" cy="1639.2" r="4.4" fill="url(#gd)"/>
<circle cx="1009.5" cy="1625.5" r="4.4" fill="url(#gd)"/>
<circle cx="1015.9" cy="1619.7" r="4.4" fill="url(#gd)"/>
<circle cx="1028.5" cy="1617.9" r="4.4" fill="url(#gd)"/>
<circle cx="1029.7" cy="1616.7" r="4.4" fill="url(#gd)"/>
<circle cx="1027.9" cy="1626.4" r="4.4" fill="url(#gd)"/>
<circle cx="1007.2" cy="1634.6" r="4.4" fill="url(#gd)"/>
<circle cx="1014.8" cy="1633.2" r="4.4" fill="url(#gd)"/>
<circle cx="1016.4" cy="1637.4" r="4.4" fill="url(#gd)"/>
<circle cx="1022.1" cy="1639" r="4.4" fill="url(#gd)"/>
<circle cx="1026.7" cy="1638.5" r="4.4" fill="url(#gd)"/>
<circle cx="1034.3" cy="1633.9" r="4.4" fill="url(#gd)"/>
<circle cx="1041.6" cy="1618.6" r="4.4" fill="url(#gd)"/>
<circle cx="1047.3" cy="1621.3" r="4.4" fill="url(#gd)"/>
<circle cx="1042.7" cy="1625.9" r="4.4" fill="url(#gd)"/>
<circle cx="1043.9" cy="1629.3" r="4.4" fill="url(#gd)"/>
<circle cx="1026.7" cy="1645.8" r="4.4" fill="url(#gd)"/>
<circle cx="1026" cy="1650" r="4.4" fill="url(#gd)"/>
<circle cx="985.5" cy="1645.4" r="4.4" fill="url(#gd)"/>
<circle cx="983.2" cy="1650" r="4.4" fill="url(#gd)"/>
<circle cx="980.9" cy="1654.5" r="4.4" fill="url(#gd)"/>
<circle cx="984.8" cy="1662.6" r="4.4" fill="url(#gd)"/>
<circle cx="993.5" cy="1648.1" r="4.4" fill="url(#gd)"/>
<circle cx="1011.8" cy="1653.4" r="4.4" fill="url(#gd)"/>
<circle cx="1010" cy="1660.3" r="4.4" fill="url(#gd)"/>
<circle cx="1009.1" cy="1667.1" r="4.4" fill="url(#gd)"/>
<circle cx="1014.1" cy="1674" r="4.4" fill="url(#gd)"/>
<circle cx="996.5" cy="1666.5" r="4.4" fill="url(#gd)"/>
<circle cx="1021" cy="1667.1" r="4.4" fill="url(#gd)"/>
<circle cx="1026" cy="1666" r="4.4" fill="url(#gd)"/>
<circle cx="931.6" cy="1664.2" r="4.4" fill="url(#gd)"/>
<circle cx="941.9" cy="1664.9" r="4.4" fill="url(#gd)"/>
<circle cx="960.3" cy="1671.7" r="4.4" fill="url(#gd)"/>
<circle cx="978.6" cy="1677.5" r="4.4" fill="url(#gd)"/>
<circle cx="861.8" cy="1683.9" r="4.4" fill="url(#gd)"/>
<circle cx="921.8" cy="1685" r="4.4" fill="url(#gd)"/>
<circle cx="925.9" cy="1690.1" r="4.4" fill="url(#gd)"/>
<circle cx="948.8" cy="1683.9" r="4.4" fill="url(#gd)"/>
<circle cx="952.3" cy="1683.9" r="4.4" fill="url(#gd)"/>
<circle cx="953.4" cy="1688.9" r="4.4" fill="url(#gd)"/>
<circle cx="967.1" cy="1684.8" r="4.4" fill="url(#gd)"/>
<circle cx="994" cy="1688.9" r="4.4" fill="url(#gd)"/>
<circle cx="1011.8" cy="1686.2" r="4.4" fill="url(#gd)"/>
<circle cx="936.2" cy="1699.7" r="4.4" fill="url(#gd)"/>
<circle cx="980.2" cy="1695.8" r="4.4" fill="url(#gd)"/>
<circle cx="984.3" cy="1701.5" r="4.4" fill="url(#gd)"/>
<circle cx="945.4" cy="1711.4" r="4.4" fill="url(#gd)"/>
<circle cx="947.7" cy="1714.6" r="4.4" fill="url(#gd)"/>
<circle cx="936.9" cy="1715.7" r="4.4" fill="url(#gd)"/>
<circle cx="970.6" cy="1720.3" r="4.4" fill="url(#gd)"/>
<circle cx="947.7" cy="1732.9" r="4.4" fill="url(#gd)"/>
<circle cx="871.6" cy="1753.5" r="4.4" fill="url(#gd)"/>
<circle cx="979.7" cy="1753.5" r="4.4" fill="url(#gd)"/>
<circle cx="897.3" cy="1965.4" r="9.6" fill="url(#gd)"/>
<text transform="translate(923.1,1975.4)" font-size="26.7" font-weight="bold" text-anchor="start" fill="#000">Secretome and both transcriptomes (n=131)</text>
<circle cx="897.3" cy="1998.9" r="9.6" fill="url(#gm)"/>
<text transform="translate(924.9,2011)" font-size="26.7" font-weight="bold" text-anchor="start" fill="#000">Secretome and cell transcriptome (n=75)</text>
<circle cx="897.3" cy="2034.4" r="9.6" fill="url(#gl)"/>
<text transform="translate(923.1,2046.2)" font-size="26.7" font-weight="bold" text-anchor="start" fill="#000">Secretome and tumor transcriptome (n=55)</text>
<text transform="translate(-0.2,1908.6)" font-size="50" font-weight="bold" text-anchor="start" fill="#000">e</text>
<line x1="95.9" y1="1904.5" x2="95.9" y2="2382.7" stroke="#6a6a6a" stroke-width="1.8"/>
<line x1="89.1" y1="2382.1" x2="96.1" y2="2382.1" stroke="#222" stroke-width="1.3"/>
<text transform="translate(85.6,2389.4)" font-size="20.5" font-weight="bold" text-anchor="end" fill="#000">-8</text>
<line x1="89.1" y1="2355.6" x2="96.1" y2="2355.6" stroke="#222" stroke-width="1.3"/>
<text transform="translate(85.6,2362.9)" font-size="20.5" font-weight="bold" text-anchor="end" fill="#000">-7</text>
<line x1="89.1" y1="2329.1" x2="96.1" y2="2329.1" stroke="#222" stroke-width="1.3"/>
<text transform="translate(85.6,2336.4)" font-size="20.5" font-weight="bold" text-anchor="end" fill="#000">-6</text>
<line x1="89.1" y1="2302.6" x2="96.1" y2="2302.6" stroke="#222" stroke-width="1.3"/>
<text transform="translate(85.6,2309.9)" font-size="20.5" font-weight="bold" text-anchor="end" fill="#000">-5</text>
<line x1="89.1" y1="2276.1" x2="96.1" y2="2276.1" stroke="#222" stroke-width="1.3"/>
<text transform="translate(85.6,2283.4)" font-size="20.5" font-weight="bold" text-anchor="end" fill="#000">-4</text>
<line x1="89.1" y1="2249.6" x2="96.1" y2="2249.6" stroke="#222" stroke-width="1.3"/>
<text transform="translate(85.6,2256.9)" font-size="20.5" font-weight="bold" text-anchor="end" fill="#000">-3</text>
<line x1="89.1" y1="2223.1" x2="96.1" y2="2223.1" stroke="#222" stroke-width="1.3"/>
<text transform="translate(85.6,2230.4)" font-size="20.5" font-weight="bold" text-anchor="end" fill="#000">-2</text>
<line x1="89.1" y1="2196.6" x2="96.1" y2="2196.6" stroke="#222" stroke-width="1.3"/>
<text transform="translate(85.6,2203.9)" font-size="20.5" font-weight="bold" text-anchor="end" fill="#000">-1</text>
<line x1="89.1" y1="2170.1" x2="96.1" y2="2170.1" stroke="#222" stroke-width="1.3"/>
<text transform="translate(85.6,2177.4)" font-size="20.5" font-weight="bold" text-anchor="end" fill="#000">0</text>
<line x1="89.1" y1="2143.6" x2="96.1" y2="2143.6" stroke="#222" stroke-width="1.3"/>
<text transform="translate(85.6,2150.9)" font-size="20.5" font-weight="bold" text-anchor="end" fill="#000">1</text>
<line x1="89.1" y1="2117.1" x2="96.1" y2="2117.1" stroke="#222" stroke-width="1.3"/>
<text transform="translate(85.6,2124.4)" font-size="20.5" font-weight="bold" text-anchor="end" fill="#000">2</text>
<line x1="89.1" y1="2090.6" x2="96.1" y2="2090.6" stroke="#222" stroke-width="1.3"/>
<text transform="translate(85.6,2097.9)" font-size="20.5" font-weight="bold" text-anchor="end" fill="#000">3</text>
<line x1="89.1" y1="2064.1" x2="96.1" y2="2064.1" stroke="#222" stroke-width="1.3"/>
<text transform="translate(85.6,2071.4)" font-size="20.5" font-weight="bold" text-anchor="end" fill="#000">4</text>
<line x1="89.1" y1="2037.6" x2="96.1" y2="2037.6" stroke="#222" stroke-width="1.3"/>
<text transform="translate(85.6,2044.9)" font-size="20.5" font-weight="bold" text-anchor="end" fill="#000">5</text>
<line x1="89.1" y1="2011.1" x2="96.1" y2="2011.1" stroke="#222" stroke-width="1.3"/>
<text transform="translate(85.6,2018.4)" font-size="20.5" font-weight="bold" text-anchor="end" fill="#000">6</text>
<line x1="89.1" y1="1984.6" x2="96.1" y2="1984.6" stroke="#222" stroke-width="1.3"/>
<text transform="translate(85.6,1991.9)" font-size="20.5" font-weight="bold" text-anchor="end" fill="#000">7</text>
<line x1="89.1" y1="1958.1" x2="96.1" y2="1958.1" stroke="#222" stroke-width="1.3"/>
<text transform="translate(85.6,1965.4)" font-size="20.5" font-weight="bold" text-anchor="end" fill="#000">8</text>
<line x1="89.1" y1="1931.6" x2="96.1" y2="1931.6" stroke="#222" stroke-width="1.3"/>
<text transform="translate(85.6,1938.9)" font-size="20.5" font-weight="bold" text-anchor="end" fill="#000">9</text>
<line x1="89.1" y1="1905.1" x2="96.1" y2="1905.1" stroke="#222" stroke-width="1.3"/>
<text transform="translate(85.6,1912.4)" font-size="20.5" font-weight="bold" text-anchor="end" fill="#000">10</text>
<line x1="96.1" y1="2170.1" x2="900.9" y2="2170.1" stroke="#111" stroke-width="1.1"/>
<line x1="96.1" y1="2382.1" x2="900.9" y2="2382.1" stroke="#222" stroke-width="1.3"/>
<text transform="translate(45.8,2274.7) rotate(-90)" font-size="33.4" font-weight="bold">Log2(FC or <tspan font-weight="normal">Δ</tspan>LFQ)</text>
<line x1="117.2" y1="2382.1" x2="117.2" y2="2389.1" stroke="#222" stroke-width="1.3"/>
<rect x="100.4" y="1983.8" width="8.5" height="186.3" fill="#d0086a"/>
<rect x="113.55" y="2041.04" width="8.5" height="129.06" fill="#606060"/>
<rect x="126.7" y="2083.71" width="8.5" height="86.39" fill="#a3a3a7"/>
<text transform="translate(125.1,2391.6) rotate(-90) scale(0.905,1)" font-size="22.8" font-weight="bold" text-anchor="end">HGF</text>
<line x1="164.65" y1="2382.1" x2="164.65" y2="2389.1" stroke="#222" stroke-width="1.3"/>
<rect x="147.85" y="1925.24" width="8.5" height="244.86" fill="#d0086a"/>
<rect x="161" y="2068.87" width="8.5" height="101.23" fill="#606060"/>
<rect x="174.15" y="2026.2" width="8.5" height="143.89" fill="#a3a3a7"/>
<text transform="translate(172.55,2391.6) rotate(-90) scale(0.905,1)" font-size="22.8" font-weight="bold" text-anchor="end">IGFBP7</text>
<line x1="212.1" y1="2382.1" x2="212.1" y2="2389.1" stroke="#222" stroke-width="1.3"/>
<rect x="195.3" y="2088.74" width="8.5" height="81.36" fill="#d0086a"/>
<rect x="208.45" y="2090.6" width="8.5" height="79.5" fill="#606060"/>
<rect x="221.6" y="2092.98" width="8.5" height="77.12" fill="#a3a3a7"/>
<text transform="translate(220,2391.6) rotate(-90) scale(0.905,1)" font-size="22.8" font-weight="bold" text-anchor="end">IGFBP4</text>
<line x1="259.55" y1="2382.1" x2="259.55" y2="2389.1" stroke="#222" stroke-width="1.3"/>
<rect x="242.75" y="2055.88" width="8.5" height="114.22" fill="#d0086a"/>
<rect x="255.9" y="2096.16" width="8.5" height="73.93" fill="#606060"/>
<rect x="269.05" y="2102.26" width="8.5" height="67.84" fill="#a3a3a7"/>
<text transform="translate(267.45,2391.6) rotate(-90) scale(0.905,1)" font-size="22.8" font-weight="bold" text-anchor="end">INHBA</text>
<line x1="307" y1="2382.1" x2="307" y2="2389.1" stroke="#222" stroke-width="1.3"/>
<rect x="290.2" y="2032.56" width="8.5" height="137.54" fill="#d0086a"/>
<rect x="303.35" y="2105.97" width="8.5" height="64.13" fill="#606060"/>
<rect x="316.5" y="2043.69" width="8.5" height="126.4" fill="#a3a3a7"/>
<text transform="translate(314.9,2391.6) rotate(-90) scale(0.905,1)" font-size="22.8" font-weight="bold" text-anchor="end">EGFL7</text>
<line x1="354.45" y1="2382.1" x2="354.45" y2="2389.1" stroke="#222" stroke-width="1.3"/>
<rect x="337.65" y="2170.1" width="8.5" height="36.57" fill="#d0086a"/>
<rect x="350.8" y="2124.78" width="8.5" height="45.32" fill="#606060"/>
<text transform="translate(362.35,2391.6) rotate(-90) scale(0.905,1)" font-size="22.8" font-weight="bold" text-anchor="end">[COL5A1]</text>
<line x1="401.9" y1="2382.1" x2="401.9" y2="2389.1" stroke="#222" stroke-width="1.3"/>
<rect x="385.1" y="2058.53" width="8.5" height="111.57" fill="#d0086a"/>
<rect x="398.25" y="2126.38" width="8.5" height="43.72" fill="#606060"/>
<rect x="411.4" y="2068.34" width="8.5" height="101.76" fill="#a3a3a7"/>
<text transform="translate(409.8,2391.6) rotate(-90) scale(0.905,1)" font-size="22.8" font-weight="bold" text-anchor="end">TGFB1</text>
<line x1="449.35" y1="2382.1" x2="449.35" y2="2389.1" stroke="#222" stroke-width="1.3"/>
<rect x="432.55" y="2125.84" width="8.5" height="44.26" fill="#d0086a"/>
<rect x="445.7" y="2128.23" width="8.5" height="41.87" fill="#606060"/>
<rect x="458.85" y="2170.1" width="8.5" height="34.18" fill="#a3a3a7"/>
<text transform="translate(457.25,2391.6) rotate(-90) scale(0.905,1)" font-size="22.8" font-weight="bold" text-anchor="end">CXCL12</text>
<line x1="496.8" y1="2382.1" x2="496.8" y2="2389.1" stroke="#222" stroke-width="1.3"/>
<rect x="480" y="2127.96" width="8.5" height="42.14" fill="#d0086a"/>
<rect x="493.15" y="2133.8" width="8.5" height="36.3" fill="#606060"/>
<text transform="translate(504.7,2391.6) rotate(-90) scale(0.905,1)" font-size="22.8" font-weight="bold" text-anchor="end">[VGF]</text>
<line x1="544.25" y1="2382.1" x2="544.25" y2="2389.1" stroke="#222" stroke-width="1.3"/>
<rect x="527.45" y="2130.88" width="8.5" height="39.22" fill="#d0086a"/>
<rect x="540.6" y="2134.86" width="8.5" height="35.24" fill="#606060"/>
<rect x="553.75" y="2139.62" width="8.5" height="30.47" fill="#a3a3a7"/>
<text transform="translate(552.15,2391.6) rotate(-90) scale(0.905,1)" font-size="22.8" font-weight="bold" text-anchor="end">IGFBPL1</text>
<line x1="591.7" y1="2382.1" x2="591.7" y2="2389.1" stroke="#222" stroke-width="1.3"/>
<rect x="574.9" y="2072.58" width="8.5" height="97.52" fill="#d0086a"/>
<rect x="588.05" y="2136.44" width="8.5" height="33.66" fill="#606060"/>
<rect x="601.2" y="2108.62" width="8.5" height="61.48" fill="#a3a3a7"/>
<text transform="translate(599.6,2391.6) rotate(-90) scale(0.905,1)" font-size="22.8" font-weight="bold" text-anchor="end">IL13RA2</text>
<line x1="639.15" y1="2382.1" x2="639.15" y2="2389.1" stroke="#222" stroke-width="1.3"/>
<rect x="622.35" y="2170.1" width="8.5" height="72.08" fill="#d0086a"/>
<rect x="635.5" y="2170.1" width="8.5" height="35.78" fill="#606060"/>
<rect x="648.65" y="2170.1" width="8.5" height="67.84" fill="#a3a3a7"/>
<text transform="translate(647.05,2391.6) rotate(-90) scale(0.905,1)" font-size="22.8" font-weight="bold" text-anchor="end">COL6A6</text>
<line x1="686.6" y1="2382.1" x2="686.6" y2="2389.1" stroke="#222" stroke-width="1.3"/>
<rect x="669.8" y="2170.1" width="8.5" height="104.14" fill="#d0086a"/>
<rect x="682.95" y="2170.1" width="8.5" height="47.43" fill="#606060"/>
<rect x="696.1" y="2170.1" width="8.5" height="52.74" fill="#a3a3a7"/>
<text transform="translate(694.5,2391.6) rotate(-90) scale(0.905,1)" font-size="22.8" font-weight="bold" text-anchor="end">IFI30</text>
<line x1="734.05" y1="2382.1" x2="734.05" y2="2389.1" stroke="#222" stroke-width="1.3"/>
<rect x="717.25" y="2170.1" width="8.5" height="58.3" fill="#d0086a"/>
<rect x="730.4" y="2170.1" width="8.5" height="54.59" fill="#606060"/>
<rect x="743.55" y="2170.1" width="8.5" height="45.32" fill="#a3a3a7"/>
<text transform="translate(741.95,2391.6) rotate(-90) scale(0.905,1)" font-size="22.8" font-weight="bold" text-anchor="end">PDGFD</text>
<line x1="781.5" y1="2382.1" x2="781.5" y2="2389.1" stroke="#222" stroke-width="1.3"/>
<rect x="764.7" y="2170.1" width="8.5" height="78.44" fill="#d0086a"/>
<rect x="777.85" y="2170.1" width="8.5" height="90.37" fill="#606060"/>
<rect x="791" y="2170.1" width="8.5" height="97.52" fill="#a3a3a7"/>
<text transform="translate(789.4,2391.6) rotate(-90) scale(0.905,1)" font-size="22.8" font-weight="bold" text-anchor="end">ITGA6</text>
<line x1="828.95" y1="2382.1" x2="828.95" y2="2389.1" stroke="#222" stroke-width="1.3"/>
<rect x="812.15" y="2170.1" width="8.5" height="33.92" fill="#d0086a"/>
<rect x="825.3" y="2170.1" width="8.5" height="99.38" fill="#606060"/>
<text transform="translate(836.85,2391.6) rotate(-90) scale(0.905,1)" font-size="22.8" font-weight="bold" text-anchor="end">[COL22A1]</text>
<line x1="876.4" y1="2382.1" x2="876.4" y2="2389.1" stroke="#222" stroke-width="1.3"/>
<rect x="859.6" y="2170.1" width="8.5" height="185.5" fill="#d0086a"/>
<rect x="872.75" y="2170.1" width="8.5" height="106" fill="#606060"/>
<rect x="885.9" y="2170.1" width="8.5" height="148.93" fill="#a3a3a7"/>
<text transform="translate(884.3,2391.6) rotate(-90) scale(0.905,1)" font-size="22.8" font-weight="bold" text-anchor="end">LTBP1</text>
<rect x="145.7" y="2289.5" width="20.2" height="12.2" fill="#d0086a"/>
<text transform="translate(177.8,2301.3)" font-size="18.55" font-weight="bold" text-anchor="start" fill="#000">LFQ in cells secretome</text>
<rect x="145.7" y="2311.8" width="20.2" height="12.2" fill="#606060"/>
<text transform="translate(177.8,2323.2)" font-size="18.55" font-weight="bold" text-anchor="start" fill="#000">FC in tumors transcriptome</text>
<rect x="145.7" y="2335.4" width="20.2" height="12.2" fill="#a3a3a7"/>
<text transform="translate(177.8,2347.8)" font-size="18.55" font-weight="bold" text-anchor="start" fill="#000">FC in cells transcriptome</text>
</svg></body></html>
